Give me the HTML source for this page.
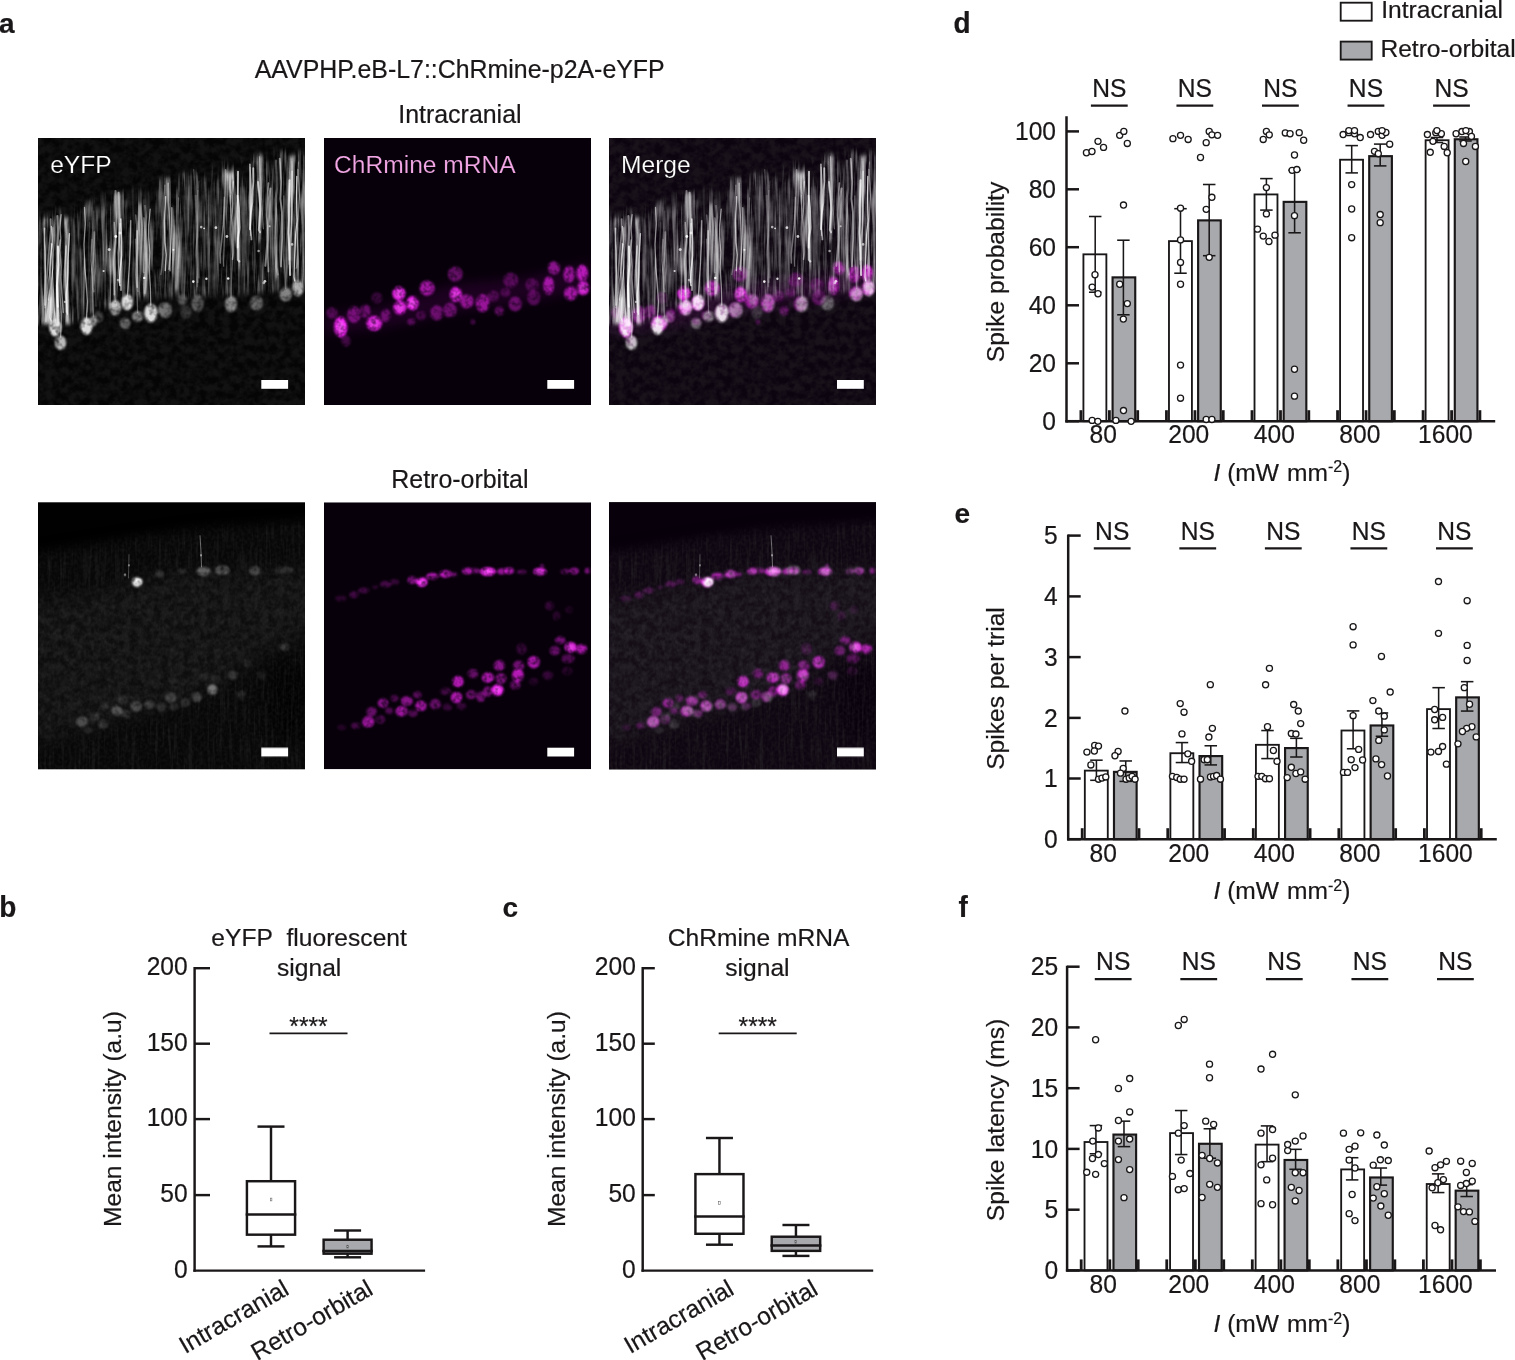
<!DOCTYPE html>
<html lang="en"><head><meta charset="utf-8"><title>Figure</title>
<style>html,body{margin:0;padding:0;background:#fff;overflow:hidden}svg{display:block}svg text{font-family:"Liberation Sans",Arial,Helvetica,sans-serif;font-kerning:none;stroke:#1a1718;stroke-width:0.2px}</style></head><body>
<svg width="1515" height="1360" viewBox="0 0 1515 1360">
<rect width="1515" height="1360" fill="#fff"/>
<defs>
<filter id="b05" x="-5%" y="-5%" width="110%" height="110%" color-interpolation-filters="sRGB"><feGaussianBlur stdDeviation="0.45"/></filter>
<filter id="b07" x="-5%" y="-5%" width="110%" height="110%" color-interpolation-filters="sRGB"><feGaussianBlur stdDeviation="0.75"/></filter>
<filter id="b1" x="-5%" y="-5%" width="110%" height="110%" color-interpolation-filters="sRGB"><feGaussianBlur stdDeviation="0.9"/></filter>
<filter id="b12" x="-5%" y="-5%" width="110%" height="110%" color-interpolation-filters="sRGB"><feGaussianBlur stdDeviation="1.1"/></filter>
<filter id="cellg" x="-5%" y="-5%" width="110%" height="110%" color-interpolation-filters="sRGB"><feGaussianBlur in="SourceGraphic" stdDeviation="0.9" result="b"/><feTurbulence type="fractalNoise" baseFrequency="0.17" numOctaves="2" seed="8" result="n"/><feColorMatrix in="n" type="matrix" values="0 0 0 0 1  0 0 0 0 1  0 0 0 0 1  1.3 0 0 0 0.22" result="na"/><feComposite in="b" in2="na" operator="in"/></filter>
<filter id="cellm" x="-5%" y="-5%" width="110%" height="110%" color-interpolation-filters="sRGB"><feGaussianBlur in="SourceGraphic" stdDeviation="1.0" result="b"/><feTurbulence type="fractalNoise" baseFrequency="0.19" numOctaves="2" seed="17" result="n"/><feColorMatrix in="n" type="matrix" values="0 0 0 0 1  0 0 0 0 1  0 0 0 0 1  1.5 0 0 0 0.12" result="na"/><feComposite in="b" in2="na" operator="in"/></filter>
<filter id="b2" x="-10%" y="-10%" width="120%" height="120%" color-interpolation-filters="sRGB"><feGaussianBlur stdDeviation="2.2"/></filter>
<filter id="b3" x="-10%" y="-10%" width="120%" height="120%" color-interpolation-filters="sRGB"><feGaussianBlur stdDeviation="3"/></filter>
<filter id="b4" x="-10%" y="-10%" width="120%" height="120%" color-interpolation-filters="sRGB"><feGaussianBlur stdDeviation="4"/></filter>
<filter id="b6" x="-20%" y="-20%" width="140%" height="140%" color-interpolation-filters="sRGB"><feGaussianBlur stdDeviation="6"/></filter>
<filter id="b9" x="-25%" y="-25%" width="150%" height="150%" color-interpolation-filters="sRGB"><feGaussianBlur stdDeviation="9"/></filter>
<filter id="nzfine" x="0" y="0" width="100%" height="100%" color-interpolation-filters="sRGB"><feTurbulence type="fractalNoise" baseFrequency="0.3" numOctaves="2" seed="4"/><feColorMatrix type="matrix" values="0 0 0 0 1  0 0 0 0 1  0 0 0 0 1  3 0 0 0 -1.1"/></filter>
<filter id="nzblob" x="0" y="0" width="100%" height="100%" color-interpolation-filters="sRGB"><feTurbulence type="fractalNoise" baseFrequency="0.13" numOctaves="3" seed="11"/><feColorMatrix type="matrix" values="0 0 0 0 1  0 0 0 0 1  0 0 0 0 1  2.6 0 0 0 -0.8"/></filter>
<filter id="nzstreak" x="0" y="0" width="100%" height="100%" color-interpolation-filters="sRGB"><feTurbulence type="fractalNoise" baseFrequency="0.19 0.013" numOctaves="3" seed="5"/><feColorMatrix type="matrix" values="0 0 0 0 1  0 0 0 0 1  0 0 0 0 1  3.8 0 0 0 -1.7"/></filter>
<filter id="nzstreak2" x="0" y="0" width="100%" height="100%" color-interpolation-filters="sRGB"><feTurbulence type="fractalNoise" baseFrequency="0.33 0.022" numOctaves="2" seed="21"/><feColorMatrix type="matrix" values="0 0 0 0 1  0 0 0 0 1  0 0 0 0 1  4 0 0 0 -1.9"/></filter>
<mask id="mB1"><path d="M-30 54L0 49L88 35L158 25L267 18L297 16L297 297L-30 297Z" fill="#fff" filter="url(#b6)"/></mask>
<mask id="mB1g"><path d="M-30 104L0 98L50 90L90 82L110 74L160 70L267 68L297 68L297 118L267 135L230 150L200 170L175 188L140 200L100 212L60 225L30 232L0 240L-30 246Z" fill="#fff" filter="url(#b9)"/></mask>
<mask id="mB1s"><g filter="url(#b6)"><path d="M-30 57L0 52L88 38L158 28L267 21L297 19L297 68L160 66L90 78L0 95L-30 100Z" fill="#fff"/><path d="M-30 250L0 245L60 230L140 205L200 175L267 140L297 125L297 297L-30 297Z" fill="#fff"/></g></mask>
<mask id="mA1"><g filter="url(#b2)"><path d="M-30 85L0 77L5 73L10 79L15 72L20 69L25 75L30 84L35 80L40 78L45 64L50 69L55 62L60 58L65 54L70 55L75 68L80 65L85 64L90 62L95 48L100 49L105 54L110 54L115 55L120 54L125 36L130 46L135 46L140 41L145 33L150 38L155 28L160 45L165 43L170 34L175 27L180 39L185 30L190 36L195 34L200 25L205 22L210 25L215 20L220 13L225 16L230 27L235 10L240 10L245 23L250 15L255 21L260 19L265 16L297 18L297 144L267 147L247 153L194 157L123 160L88 163L53 175L35 185L0 187L-30 187Z" fill="#383838"/><rect x="3.0" y="80" width="30" height="106" fill="#bebebe"/><rect x="71.0" y="56" width="12" height="114" fill="#ababab"/><rect x="97.5" y="66" width="13" height="92" fill="#989898"/><rect x="126.5" y="40" width="15" height="112" fill="#8e8e8e"/><rect x="185.0" y="34" width="16" height="96" fill="#b4b4b4"/><rect x="210.0" y="18" width="14" height="86" fill="#ababab"/><rect x="229.5" y="24" width="13" height="116" fill="#727272"/><rect x="250.0" y="18" width="16" height="126" fill="#a1a1a1"/><rect x="47.0" y="70" width="10" height="105" fill="#555555"/><rect x="154.0" y="34" width="12" height="116" fill="#4c4c4c"/></g></mask>
<mask id="mA1b"><g filter="url(#b2)"><path d="M-30 88L0 85L5 82L10 75L15 92L20 70L25 80L30 88L35 67L40 76L45 76L50 60L55 67L60 73L65 65L70 70L75 54L80 55L85 51L90 59L95 68L100 58L105 61L110 49L115 57L120 40L125 43L130 51L135 51L140 42L145 33L150 36L155 33L160 34L165 45L170 29L175 44L180 42L185 21L190 28L195 29L200 17L205 25L210 36L215 16L220 26L225 15L230 25L235 33L240 16L245 11L250 13L255 24L260 11L265 13L297 21L297 144L267 147L247 153L194 157L123 160L88 163L53 175L35 185L0 187L-30 187Z" fill="#8a8a8a"/></g></mask>

<g id="eyfpT"><rect width="267" height="267" fill="#050505"/><rect width="267" height="267" fill="#fff" filter="url(#nzblob)" opacity="0.05"/><rect width="267" height="267" fill="#fff" filter="url(#nzstreak)" mask="url(#mA1)"/><rect width="267" height="267" fill="#fff" filter="url(#nzstreak2)" mask="url(#mA1b)" opacity="0.5"/><g filter="url(#b07)"><g stroke="#fff" fill="none" stroke-linecap="round" stroke-linejoin="round"><path d="M12.7 81.1L12.8 92.3L11.4 108.1L9.9 126.3L8.6 143.2L8.3 154.6L7.1 169.7" stroke-width="1.8" opacity="0.43"/><path d="M31.4 95.6L30.0 121.2L29.3 145.0L28.1 157.3L29.1 172.2L29.4 176.1" stroke-width="1.4" opacity="0.68"/><path d="M19.4 78.1L20.0 91.4L19.4 108.3L19.3 127.6L20.2 142.4L19.4 163.6L19.5 182.8L20.2 184.5" stroke-width="2.2" opacity="0.47"/><path d="M6.5 90.2L6.5 102.6L7.0 113.3L7.3 135.5L6.7 159.5L7.0 167.1" stroke-width="1.5" opacity="0.65"/><path d="M28.2 108.1L26.8 128.7L27.3 150.0L28.3 174.1" stroke-width="1.5" opacity="0.47"/><path d="M23.1 76.8L21.8 89.5L22.7 100.4L21.9 112.5L23.1 128.7L22.9 140.0L24.1 158.8L25.3 174.5" stroke-width="1.5" opacity="0.47"/><path d="M13.8 106.1L12.7 118.5L11.9 132.2L12.2 149.9L10.6 162.1" stroke-width="1.4" opacity="0.55"/><path d="M20.0 108.4L20.4 126.7L18.9 147.5L19.8 168.7" stroke-width="2.0" opacity="0.82"/><path d="M14.8 89.6L13.4 109.7L12.4 120.8L11.9 133.4L10.3 144.2L9.1 156.6L7.5 172.5L7.9 183.4" stroke-width="1.3" opacity="0.39"/><path d="M13.4 88.4L15.0 112.0L14.9 129.4L13.7 140.8L12.9 156.3L11.8 179.5L13.3 182.9" stroke-width="1.2" opacity="0.62"/><path d="M77.5 52.9L78.7 78.6L77.9 99.7L76.9 115.6L77.0 137.9L76.4 156.4" stroke-width="2.0" opacity="0.39"/><path d="M82.8 81.0L83.6 104.1L83.6 117.7L82.1 133.4L81.4 143.8L82.0 147.6" stroke-width="1.5" opacity="0.79"/><path d="M82.2 85.6L81.3 101.4L80.4 115.1L80.8 128.3L81.9 144.1" stroke-width="1.8" opacity="0.53"/><path d="M80.6 54.9L81.5 79.4L81.4 101.4L82.4 114.3L83.3 129.6L83.0 152.0" stroke-width="2.1" opacity="0.49"/><path d="M106.9 67.8L108.2 80.2L107.1 103.1L108.6 126.3L108.1 146.8L107.0 154.8" stroke-width="2.2" opacity="0.25"/><path d="M105.9 79.9L107.1 96.8L106.2 120.1L105.5 134.1L105.8 134.7" stroke-width="1.5" opacity="0.36"/><path d="M99.2 92.9L99.5 110.3L99.2 134.7L99.2 149.2" stroke-width="1.6" opacity="0.50"/><path d="M97.7 77.0L98.7 87.0L98.6 99.8L98.8 121.4L98.9 136.6L99.8 153.4" stroke-width="1.7" opacity="0.29"/><path d="M130.2 45.4L130.4 63.5L131.7 85.7L132.1 102.8L132.1 120.9L132.0 132.7" stroke-width="1.6" opacity="0.46"/><path d="M140.6 59.8L139.9 84.8L141.3 103.8L140.1 127.2L139.9 130.1" stroke-width="1.3" opacity="0.26"/><path d="M127.6 58.8L126.5 83.1L127.0 104.6L128.2 116.9L127.3 132.4" stroke-width="1.5" opacity="0.65"/><path d="M133.8 69.7L133.6 82.2L133.1 100.5L132.5 113.6L131.0 131.2" stroke-width="1.5" opacity="0.47"/><path d="M126.8 47.3L125.4 65.5L126.3 91.2L125.0 116.8L123.6 131.0L122.8 136.4" stroke-width="1.5" opacity="0.28"/><path d="M199.6 57.8L200.9 70.2L201.6 89.4L200.1 100.8L199.9 121.8L201.3 123.5" stroke-width="2.0" opacity="0.65"/><path d="M186.3 59.1L186.2 82.9L186.4 98.3L185.6 123.2L185.7 128.3" stroke-width="1.1" opacity="0.42"/><path d="M187.6 31.7L187.0 46.7L186.3 68.9L185.3 86.9L183.7 102.4L182.2 116.4L182.3 125.0" stroke-width="1.6" opacity="0.39"/><path d="M200.0 33.6L199.9 50.5L199.6 73.9L200.2 92.0L199.7 109.5" stroke-width="1.8" opacity="0.76"/><path d="M195.2 43.8L194.0 54.6L194.8 65.8L193.7 79.9L194.8 91.2L195.3 115.1L194.5 121.3" stroke-width="1.6" opacity="0.45"/><path d="M212.2 29.2L213.7 54.5L212.9 73.3L212.3 97.4" stroke-width="1.0" opacity="0.46"/><path d="M215.3 30.1L215.4 43.4L214.6 53.4L214.3 64.9L212.8 75.5L211.9 90.4L212.0 91.4" stroke-width="1.8" opacity="0.68"/><path d="M220.0 43.9L221.6 59.1L222.3 71.5L220.8 91.8L222.1 94.3" stroke-width="1.9" opacity="0.61"/><path d="M221.4 18.7L222.4 36.8L223.5 59.7L224.7 79.0L225.4 90.9" stroke-width="1.0" opacity="0.39"/><path d="M211.9 26.3L212.1 49.6L212.5 69.7L212.4 90.6L213.4 100.6L213.4 101.4" stroke-width="1.8" opacity="0.56"/><path d="M230.4 45.1L229.6 56.2L228.7 77.9L230.2 99.7L229.8 117.7L230.4 133.7" stroke-width="1.7" opacity="0.46"/><path d="M237.9 22.6L238.6 36.7L238.9 51.6L237.4 61.8L238.0 76.1L238.6 97.1L238.6 111.8L238.5 129.2L239.8 136.3" stroke-width="2.2" opacity="0.25"/><path d="M241.7 20.6L243.2 43.7L242.4 60.9L243.9 74.3L244.1 87.6L244.2 99.9L243.0 125.1L243.0 128.5" stroke-width="1.8" opacity="0.50"/><path d="M232.5 50.5L230.9 60.9L230.8 78.8L229.6 93.6L229.0 109.1L227.4 127.8" stroke-width="2.0" opacity="0.45"/><path d="M251.9 45.5L251.2 69.9L250.9 85.9L251.2 111.9L251.0 126.2" stroke-width="1.1" opacity="0.40"/><path d="M251.6 42.4L250.8 67.3L250.9 81.6L250.5 94.6L251.7 119.9L252.1 136.9" stroke-width="2.1" opacity="0.72"/><path d="M258.8 38.5L258.6 60.2L259.1 82.2L257.6 96.8L256.5 121.6L256.0 139.2L256.7 142.8" stroke-width="1.3" opacity="0.75"/><path d="M260.5 24.2L259.4 40.5L258.5 53.1L258.5 77.6L259.8 91.1L259.6 117.1L258.6 129.3L258.1 130.1" stroke-width="1.3" opacity="0.30"/><path d="M254.1 33.4L253.9 55.4L253.9 72.0L253.4 88.0L252.7 99.0L251.5 121.8" stroke-width="1.8" opacity="0.51"/><path d="M55.6 73.3L55.3 87.3L56.8 104.5L58.0 128.0L56.5 138.4L57.7 159.7L58.0 168.2" stroke-width="1.5" opacity="0.14"/><path d="M56.3 94.1L55.5 119.6L54.4 131.4L54.9 149.7L55.6 153.6" stroke-width="1.9" opacity="0.31"/><path d="M51.6 84.8L50.7 107.3L51.2 132.0L50.0 146.8L50.4 160.9L49.2 174.0" stroke-width="1.6" opacity="0.15"/><path d="M161.0 43.2L159.4 62.8L159.3 77.6L159.8 103.0L159.7 127.1L158.9 140.9L159.5 144.4" stroke-width="1.0" opacity="0.19"/><path d="M160.0 52.9L160.5 67.0L159.6 91.9L159.1 102.4L159.7 119.1L160.7 132.3L160.7 139.5" stroke-width="2.2" opacity="0.17"/><path d="M157.7 57.9L158.6 71.4L160.0 86.1L159.0 104.1L158.8 117.6L160.2 138.3L159.8 144.2" stroke-width="2.2" opacity="0.17"/><path d="M155.7 31.8L157.0 48.1L157.7 72.2L159.1 98.2L158.1 113.4L158.9 138.4L159.4 148.5" stroke-width="1.4" opacity="0.21"/><path d="M17.3 182.9L15.8 167.9L15.3 152.5L14.2 129.0L13.3 105.5" stroke-width="1.3" opacity="0.54"/><path d="M22.6 199.1L23.5 176.3L22.2 159.1L21.8 141.4L20.9 118.4L22.1 102.0" stroke-width="1.3" opacity="0.45"/><path d="M48.5 181.1L49.4 163.2L48.0 142.0L46.7 129.6L46.0 106.5L47.2 85.6L46.5 69.5" stroke-width="1.3" opacity="0.54"/><path d="M55.5 178.8L54.8 158.4L54.3 137.8L52.8 122.5L54.0 101.5" stroke-width="1.3" opacity="0.30"/><path d="M77.2 163.5L75.8 139.2L75.7 124.4L77.1 100.9L76.3 84.3" stroke-width="1.3" opacity="0.48"/><path d="M89.4 157.9L90.6 139.0L91.5 124.8L92.5 103.9L92.8 82.6" stroke-width="1.3" opacity="0.54"/><path d="M112.8 167.0L112.4 150.2L111.1 128.8L111.9 114.5L110.6 99.5L110.7 87.1L112.2 71.2" stroke-width="1.3" opacity="0.54"/><path d="M99.6 174.4L98.9 149.6L97.7 136.6L98.3 118.6L97.5 101.2" stroke-width="1.3" opacity="0.30"/><path d="M193.0 159.6L193.5 139.2L194.5 118.2L193.4 98.2L192.8 76.2L192.4 57.4" stroke-width="1.3" opacity="0.33"/><path d="M247.6 150.6L246.9 135.3L245.8 120.3L246.1 97.7L245.7 81.8L245.8 57.9" stroke-width="1.3" opacity="0.30"/><path d="M260.0 143.8L260.4 121.1L259.2 97.2L260.2 79.5L261.4 57.4L260.8 44.9L259.9 31.5" stroke-width="1.3" opacity="0.42"/></g></g><g filter="url(#b05)"><g fill="#fff"><circle cx="65.6" cy="133.0" r="1.1" opacity="0.77"/><circle cx="166.1" cy="90.3" r="0.9" opacity="0.88"/><circle cx="71.2" cy="111.5" r="1.5" opacity="0.71"/><circle cx="220.6" cy="113.0" r="1.3" opacity="0.57"/><circle cx="168.4" cy="140.8" r="1.2" opacity="0.83"/><circle cx="177.9" cy="89.7" r="1.4" opacity="0.77"/><circle cx="82.0" cy="95.0" r="1.4" opacity="0.71"/><circle cx="190.2" cy="140.5" r="1.3" opacity="0.91"/><circle cx="106.3" cy="139.9" r="1.2" opacity="0.92"/><circle cx="231.6" cy="88.3" r="1.0" opacity="0.60"/><circle cx="254.1" cy="106.4" r="1.3" opacity="0.64"/><circle cx="135.4" cy="111.8" r="1.1" opacity="0.76"/><circle cx="155.3" cy="143.6" r="1.3" opacity="0.92"/><circle cx="225.8" cy="145.0" r="1.3" opacity="0.57"/><circle cx="226.9" cy="143.3" r="1.4" opacity="0.76"/><circle cx="188.9" cy="98.5" r="1.4" opacity="0.76"/><circle cx="77.8" cy="98.5" r="1.4" opacity="0.95"/><circle cx="26.9" cy="163.9" r="1.1" opacity="0.57"/><circle cx="80.1" cy="142.1" r="1.4" opacity="0.52"/><circle cx="163.2" cy="89.1" r="1.3" opacity="0.65"/></g></g><g filter="url(#cellg)"><ellipse cx="17.3" cy="189.8" rx="6.1" ry="8.6" fill="#f4f4f4" opacity="0.90"/><ellipse cx="22.6" cy="204.8" rx="5.7" ry="7.2" fill="#f4f4f4" opacity="0.75"/><ellipse cx="48.5" cy="188.1" rx="6.1" ry="8.6" fill="#f4f4f4" opacity="0.90"/><ellipse cx="55.5" cy="182.8" rx="4.2" ry="5.3" fill="#f4f4f4" opacity="0.50"/><ellipse cx="77.2" cy="169.6" rx="5.7" ry="7.6" fill="#f4f4f4" opacity="0.80"/><ellipse cx="89.4" cy="164.3" rx="5.7" ry="8.0" fill="#f4f4f4" opacity="0.90"/><ellipse cx="112.8" cy="174.9" rx="6.5" ry="9.5" fill="#f4f4f4" opacity="0.90"/><ellipse cx="126.9" cy="172.2" rx="6.9" ry="8.0" fill="#f4f4f4" opacity="0.45"/><ellipse cx="99.6" cy="178.4" rx="5.7" ry="5.3" fill="#f4f4f4" opacity="0.50"/><ellipse cx="87.2" cy="185.4" rx="5.3" ry="5.7" fill="#f4f4f4" opacity="0.40"/><ellipse cx="144.5" cy="161.6" rx="4.8" ry="5.3" fill="#f4f4f4" opacity="0.30"/><ellipse cx="159.5" cy="165.2" rx="6.1" ry="8.6" fill="#f4f4f4" opacity="0.35"/><ellipse cx="193.0" cy="166.0" rx="6.1" ry="8.0" fill="#f4f4f4" opacity="0.55"/><ellipse cx="218.5" cy="165.2" rx="6.7" ry="7.2" fill="#f4f4f4" opacity="0.40"/><ellipse cx="247.6" cy="156.3" rx="6.1" ry="7.2" fill="#f4f4f4" opacity="0.50"/><ellipse cx="260.0" cy="150.2" rx="5.7" ry="8.0" fill="#f4f4f4" opacity="0.70"/><ellipse cx="148.0" cy="174.0" rx="5.7" ry="6.7" fill="#f4f4f4" opacity="0.20"/><ellipse cx="60.8" cy="179.3" rx="4.8" ry="5.7" fill="#f4f4f4" opacity="0.25"/></g></g>
<g id="mrnaT"><rect width="267" height="267" fill="#07000a"/><path d="M0 178L60 168L130 146L200 140L267 124L267 152L200 164L130 174L60 190L0 196Z" fill="#b010b8" opacity="0.13" filter="url(#b6)"/><g filter="url(#cellm)"><ellipse cx="16.7" cy="189.0" rx="6.7" ry="10.5" fill="#ee22ee" opacity="1.00"/><ellipse cx="16.7" cy="189.0" rx="4.0" ry="6.3" fill="#ff66ff" opacity="0.64"/><ellipse cx="50.2" cy="185.4" rx="8.0" ry="7.6" fill="#ee22ee" opacity="0.85"/><ellipse cx="50.2" cy="185.4" rx="4.8" ry="4.6" fill="#ff66ff" opacity="0.40"/><ellipse cx="74.9" cy="155.5" rx="6.7" ry="7.2" fill="#ee22ee" opacity="0.90"/><ellipse cx="74.9" cy="155.5" rx="4.0" ry="4.3" fill="#ff66ff" opacity="0.48"/><ellipse cx="75.8" cy="169.6" rx="6.7" ry="7.2" fill="#ee22ee" opacity="0.85"/><ellipse cx="75.8" cy="169.6" rx="4.0" ry="4.3" fill="#ff66ff" opacity="0.40"/><ellipse cx="88.5" cy="165.2" rx="6.1" ry="7.2" fill="#ee22ee" opacity="0.95"/><ellipse cx="88.5" cy="165.2" rx="3.7" ry="4.3" fill="#ff66ff" opacity="0.56"/><ellipse cx="103.1" cy="150.2" rx="7.6" ry="7.6" fill="#ee22ee" opacity="0.65"/><ellipse cx="131.8" cy="156.3" rx="6.1" ry="7.6" fill="#ee22ee" opacity="0.85"/><ellipse cx="131.8" cy="156.3" rx="3.7" ry="4.6" fill="#ff66ff" opacity="0.40"/><ellipse cx="131.3" cy="136.1" rx="7.6" ry="7.6" fill="#ee22ee" opacity="0.40"/><ellipse cx="142.8" cy="163.4" rx="6.7" ry="7.2" fill="#ee22ee" opacity="0.55"/><ellipse cx="158.6" cy="165.2" rx="6.7" ry="9.1" fill="#ee22ee" opacity="0.60"/><ellipse cx="112.8" cy="174.9" rx="6.7" ry="7.6" fill="#ee22ee" opacity="0.40"/><ellipse cx="126.0" cy="172.2" rx="6.7" ry="7.6" fill="#ee22ee" opacity="0.40"/><ellipse cx="191.2" cy="166.0" rx="6.7" ry="7.6" fill="#ee22ee" opacity="0.40"/><ellipse cx="224.7" cy="147.5" rx="5.3" ry="9.5" fill="#ee22ee" opacity="0.65"/><ellipse cx="230.0" cy="129.9" rx="6.1" ry="6.7" fill="#ee22ee" opacity="0.55"/><ellipse cx="245.0" cy="136.1" rx="5.7" ry="8.6" fill="#ee22ee" opacity="0.60"/><ellipse cx="258.2" cy="135.2" rx="5.7" ry="8.6" fill="#ee22ee" opacity="0.75"/><ellipse cx="259.1" cy="150.2" rx="6.1" ry="7.2" fill="#ee22ee" opacity="0.80"/><ellipse cx="259.1" cy="150.2" rx="3.7" ry="4.3" fill="#ff66ff" opacity="0.32"/><ellipse cx="246.7" cy="155.5" rx="6.7" ry="7.2" fill="#ee22ee" opacity="0.65"/><ellipse cx="30.0" cy="176.6" rx="6.7" ry="8.6" fill="#ee22ee" opacity="0.45"/><ellipse cx="41.4" cy="173.1" rx="5.3" ry="6.7" fill="#ee22ee" opacity="0.40"/><ellipse cx="61.7" cy="177.5" rx="4.8" ry="6.7" fill="#ee22ee" opacity="0.40"/><ellipse cx="7.9" cy="174.9" rx="5.7" ry="5.7" fill="#ee22ee" opacity="0.30"/><ellipse cx="186.8" cy="142.2" rx="7.6" ry="7.6" fill="#ee22ee" opacity="0.30"/><ellipse cx="209.7" cy="159.9" rx="6.7" ry="7.6" fill="#ee22ee" opacity="0.30"/><ellipse cx="208.0" cy="146.7" rx="6.7" ry="6.7" fill="#ee22ee" opacity="0.25"/><ellipse cx="175.4" cy="173.1" rx="4.8" ry="4.8" fill="#ee22ee" opacity="0.35"/><ellipse cx="87.2" cy="183.7" rx="4.2" ry="3.4" fill="#ee22ee" opacity="0.30"/><ellipse cx="148.9" cy="183.7" rx="2.3" ry="2.7" fill="#ee22ee" opacity="0.30"/><ellipse cx="22.0" cy="203.0" rx="4.8" ry="5.7" fill="#ee22ee" opacity="0.25"/><ellipse cx="52.9" cy="159.9" rx="5.7" ry="5.7" fill="#ee22ee" opacity="0.20"/><ellipse cx="169.2" cy="158.1" rx="5.7" ry="5.7" fill="#ee22ee" opacity="0.25"/><ellipse cx="96.9" cy="177.5" rx="4.8" ry="4.8" fill="#ee22ee" opacity="0.25"/><ellipse cx="181.5" cy="154.6" rx="4.8" ry="4.8" fill="#ee22ee" opacity="0.25"/></g></g>
<g id="eyfpB"><rect width="267" height="267" fill="#010101"/><path d="M-30 54L0 49L88 35L158 25L267 18L297 16L297 297L-30 297Z" fill="#070707" filter="url(#b6)"/><path d="M-30 104L0 98L50 90L90 82L110 74L160 70L267 68L297 68L297 118L267 135L230 150L200 170L175 188L140 200L100 212L60 225L30 232L0 240L-30 246Z" fill="#060606" filter="url(#b9)" style="mix-blend-mode:screen"/><ellipse cx="250" cy="200" rx="22" ry="40" fill="#000" opacity="0.6" filter="url(#b6)"/><rect width="267" height="267" fill="#fff" filter="url(#nzblob)" opacity="0.05" mask="url(#mB1g)"/><rect width="267" height="267" fill="#fff" filter="url(#nzfine)" opacity="0.03" mask="url(#mB1)"/><rect width="267" height="267" fill="#fff" filter="url(#nzstreak2)" opacity="0.04" mask="url(#mB1s)"/><g stroke="#fff" fill="none" filter="url(#b05)"><path d="M162 33L163 50L163.5 65" stroke-width="1" opacity="0.4"/><path d="M91 52L90.5 76" stroke-width="1" opacity="0.25"/><circle cx="163" cy="53" r="1" fill="#fff" opacity="0.6" stroke="none"/><circle cx="91" cy="63" r="1" fill="#fff" opacity="0.5" stroke="none"/><circle cx="87" cy="72.5" r="1.2" fill="#fff" opacity="0.5" stroke="none"/></g><g filter="url(#cellg)"><ellipse cx="99.2" cy="79.7" rx="5.2" ry="4.8" fill="#f4f4f4" opacity="1.00"/><ellipse cx="165.7" cy="69.1" rx="7.0" ry="4.6" fill="#f4f4f4" opacity="0.36"/><ellipse cx="184.2" cy="67.9" rx="7.4" ry="4.6" fill="#f4f4f4" opacity="0.32"/><ellipse cx="216.8" cy="68.4" rx="5.6" ry="4.6" fill="#f4f4f4" opacity="0.25"/><ellipse cx="246.7" cy="67.9" rx="9.3" ry="3.7" fill="#f4f4f4" opacity="0.14"/><ellipse cx="121.6" cy="71.4" rx="4.6" ry="3.7" fill="#f4f4f4" opacity="0.14"/><ellipse cx="144.5" cy="68.7" rx="4.6" ry="2.8" fill="#f4f4f4" opacity="0.11"/><ellipse cx="174.5" cy="187.2" rx="5.2" ry="5.2" fill="#f4f4f4" opacity="0.43"/><ellipse cx="158.6" cy="194.8" rx="5.2" ry="5.2" fill="#f4f4f4" opacity="0.22"/><ellipse cx="133.1" cy="195.2" rx="5.6" ry="5.2" fill="#f4f4f4" opacity="0.22"/><ellipse cx="147.2" cy="200.4" rx="5.2" ry="4.6" fill="#f4f4f4" opacity="0.14"/><ellipse cx="135.7" cy="204.0" rx="4.6" ry="4.1" fill="#f4f4f4" opacity="0.14"/><ellipse cx="123.4" cy="204.9" rx="5.2" ry="4.6" fill="#f4f4f4" opacity="0.14"/><ellipse cx="111.4" cy="202.6" rx="5.2" ry="4.6" fill="#f4f4f4" opacity="0.18"/><ellipse cx="98.3" cy="204.0" rx="5.9" ry="5.2" fill="#f4f4f4" opacity="0.25"/><ellipse cx="78.8" cy="208.4" rx="5.6" ry="5.2" fill="#f4f4f4" opacity="0.29"/><ellipse cx="88.1" cy="211.9" rx="5.2" ry="4.1" fill="#f4f4f4" opacity="0.14"/><ellipse cx="84.6" cy="197.8" rx="5.2" ry="4.1" fill="#f4f4f4" opacity="0.13"/><ellipse cx="65.2" cy="221.6" rx="5.2" ry="4.6" fill="#f4f4f4" opacity="0.18"/><ellipse cx="56.7" cy="214.5" rx="5.2" ry="4.6" fill="#f4f4f4" opacity="0.14"/><ellipse cx="44.1" cy="219.5" rx="5.9" ry="5.6" fill="#f4f4f4" opacity="0.25"/><ellipse cx="66.1" cy="203.1" rx="4.6" ry="4.1" fill="#f4f4f4" opacity="0.11"/><ellipse cx="194.7" cy="173.1" rx="4.6" ry="4.6" fill="#f4f4f4" opacity="0.18"/><ellipse cx="203.6" cy="192.5" rx="4.6" ry="4.6" fill="#f4f4f4" opacity="0.11"/><ellipse cx="223.8" cy="173.1" rx="4.6" ry="4.1" fill="#f4f4f4" opacity="0.09"/><ellipse cx="246.7" cy="144.9" rx="4.6" ry="4.1" fill="#f4f4f4" opacity="0.18"/><ellipse cx="209.7" cy="161.7" rx="4.1" ry="4.1" fill="#f4f4f4" opacity="0.09"/><ellipse cx="50.2" cy="227.8" rx="4.1" ry="3.3" fill="#f4f4f4" opacity="0.11"/><ellipse cx="165.7" cy="174.9" rx="4.6" ry="3.7" fill="#f4f4f4" opacity="0.09"/><ellipse cx="136.6" cy="179.3" rx="5.2" ry="2.8" fill="#f4f4f4" opacity="0.09"/><ellipse cx="178.0" cy="176.7" rx="4.6" ry="3.7" fill="#f4f4f4" opacity="0.09"/></g></g>
<g id="mrnaB"><rect width="267" height="267" fill="#07000a"/><g filter="url(#cellm)"><ellipse cx="97.8" cy="79.8" rx="5.8" ry="4.8" fill="#ee22ee" opacity="0.95"/><ellipse cx="97.8" cy="79.8" rx="3.5" ry="2.9" fill="#ff66ff" opacity="0.56"/><ellipse cx="88.1" cy="77.9" rx="4.8" ry="3.9" fill="#ee22ee" opacity="0.55"/><ellipse cx="108.4" cy="74.0" rx="6.2" ry="3.5" fill="#ee22ee" opacity="0.70"/><ellipse cx="121.6" cy="71.7" rx="6.2" ry="3.9" fill="#ee22ee" opacity="0.75"/><ellipse cx="130.4" cy="72.2" rx="2.9" ry="2.3" fill="#ee22ee" opacity="0.40"/><ellipse cx="143.6" cy="68.7" rx="5.8" ry="3.5" fill="#ee22ee" opacity="0.65"/><ellipse cx="151.6" cy="68.4" rx="3.9" ry="2.9" fill="#ee22ee" opacity="0.45"/><ellipse cx="163.9" cy="69.3" rx="8.1" ry="4.3" fill="#ee22ee" opacity="1.00"/><ellipse cx="163.9" cy="69.3" rx="4.9" ry="2.6" fill="#ff66ff" opacity="0.64"/><ellipse cx="178.0" cy="69.1" rx="4.8" ry="3.1" fill="#ee22ee" opacity="0.60"/><ellipse cx="185.0" cy="68.4" rx="5.4" ry="3.5" fill="#ee22ee" opacity="0.65"/><ellipse cx="197.4" cy="69.6" rx="5.4" ry="2.3" fill="#ee22ee" opacity="0.30"/><ellipse cx="215.9" cy="69.3" rx="6.8" ry="3.9" fill="#ee22ee" opacity="0.85"/><ellipse cx="215.9" cy="69.3" rx="4.1" ry="2.3" fill="#ff66ff" opacity="0.40"/><ellipse cx="218.0" cy="63.4" rx="1.9" ry="1.6" fill="#ee22ee" opacity="0.50"/><ellipse cx="241.4" cy="69.1" rx="4.8" ry="2.7" fill="#ee22ee" opacity="0.35"/><ellipse cx="250.3" cy="68.7" rx="4.8" ry="3.5" fill="#ee22ee" opacity="0.55"/><ellipse cx="263.5" cy="68.4" rx="2.9" ry="2.9" fill="#ee22ee" opacity="0.50"/><ellipse cx="61.7" cy="81.9" rx="5.8" ry="3.5" fill="#ee22ee" opacity="0.25"/><ellipse cx="70.5" cy="79.6" rx="4.8" ry="2.9" fill="#ee22ee" opacity="0.20"/><ellipse cx="39.7" cy="88.1" rx="5.8" ry="2.9" fill="#ee22ee" opacity="0.25"/><ellipse cx="30.0" cy="92.5" rx="4.8" ry="3.5" fill="#ee22ee" opacity="0.25"/><ellipse cx="16.7" cy="96.0" rx="5.8" ry="3.5" fill="#ee22ee" opacity="0.15"/><ellipse cx="51.1" cy="84.6" rx="2.9" ry="2.3" fill="#ee22ee" opacity="0.15"/><ellipse cx="225.6" cy="103.6" rx="4.8" ry="4.3" fill="#ee22ee" opacity="0.20"/><ellipse cx="232.6" cy="113.7" rx="3.9" ry="4.8" fill="#ee22ee" opacity="0.15"/><ellipse cx="245.0" cy="107.5" rx="3.9" ry="3.5" fill="#ee22ee" opacity="0.12"/><ellipse cx="246.7" cy="144.9" rx="6.2" ry="5.4" fill="#ee22ee" opacity="0.85"/><ellipse cx="246.7" cy="144.9" rx="3.7" ry="3.3" fill="#ff66ff" opacity="0.40"/><ellipse cx="257.3" cy="146.7" rx="5.8" ry="4.8" fill="#ee22ee" opacity="0.75"/><ellipse cx="236.2" cy="137.9" rx="5.4" ry="3.9" fill="#ee22ee" opacity="0.45"/><ellipse cx="230.9" cy="148.5" rx="5.4" ry="4.8" fill="#ee22ee" opacity="0.40"/><ellipse cx="197.4" cy="146.7" rx="5.4" ry="5.8" fill="#ee22ee" opacity="0.20"/><ellipse cx="244.1" cy="156.4" rx="6.8" ry="4.8" fill="#ee22ee" opacity="0.30"/><ellipse cx="209.7" cy="159.9" rx="6.2" ry="6.2" fill="#ee22ee" opacity="0.70"/><ellipse cx="194.7" cy="163.4" rx="5.8" ry="5.4" fill="#ee22ee" opacity="0.45"/><ellipse cx="175.4" cy="163.1" rx="5.8" ry="5.4" fill="#ee22ee" opacity="0.55"/><ellipse cx="193.9" cy="173.1" rx="5.8" ry="6.8" fill="#ee22ee" opacity="0.75"/><ellipse cx="191.2" cy="182.8" rx="5.4" ry="4.3" fill="#ee22ee" opacity="0.40"/><ellipse cx="177.1" cy="176.1" rx="5.4" ry="5.4" fill="#ee22ee" opacity="0.50"/><ellipse cx="163.9" cy="175.4" rx="6.2" ry="5.4" fill="#ee22ee" opacity="0.70"/><ellipse cx="148.9" cy="171.4" rx="5.4" ry="4.8" fill="#ee22ee" opacity="0.40"/><ellipse cx="133.9" cy="179.3" rx="5.8" ry="5.8" fill="#ee22ee" opacity="0.75"/><ellipse cx="173.6" cy="187.8" rx="6.2" ry="5.8" fill="#ee22ee" opacity="0.95"/><ellipse cx="173.6" cy="187.8" rx="3.7" ry="3.5" fill="#ff66ff" opacity="0.56"/><ellipse cx="163.9" cy="189.0" rx="4.8" ry="5.4" fill="#ee22ee" opacity="0.45"/><ellipse cx="156.9" cy="194.3" rx="4.8" ry="5.4" fill="#ee22ee" opacity="0.45"/><ellipse cx="147.2" cy="192.5" rx="5.4" ry="4.8" fill="#ee22ee" opacity="0.40"/><ellipse cx="132.5" cy="195.2" rx="5.8" ry="5.8" fill="#ee22ee" opacity="0.70"/><ellipse cx="121.6" cy="189.0" rx="5.4" ry="3.9" fill="#ee22ee" opacity="0.25"/><ellipse cx="111.4" cy="201.9" rx="5.8" ry="5.4" fill="#ee22ee" opacity="0.40"/><ellipse cx="96.9" cy="203.6" rx="5.8" ry="5.4" fill="#ee22ee" opacity="0.65"/><ellipse cx="93.4" cy="192.5" rx="4.3" ry="3.5" fill="#ee22ee" opacity="0.35"/><ellipse cx="82.8" cy="198.7" rx="6.2" ry="4.8" fill="#ee22ee" opacity="0.55"/><ellipse cx="77.5" cy="208.9" rx="6.2" ry="5.4" fill="#ee22ee" opacity="0.65"/><ellipse cx="89.0" cy="211.0" rx="4.8" ry="3.9" fill="#ee22ee" opacity="0.30"/><ellipse cx="59.0" cy="200.8" rx="5.4" ry="4.8" fill="#ee22ee" opacity="0.55"/><ellipse cx="70.5" cy="196.0" rx="3.9" ry="3.5" fill="#ee22ee" opacity="0.30"/><ellipse cx="47.6" cy="209.3" rx="5.4" ry="4.8" fill="#ee22ee" opacity="0.40"/><ellipse cx="44.1" cy="219.5" rx="6.2" ry="5.8" fill="#ee22ee" opacity="0.65"/><ellipse cx="56.4" cy="217.2" rx="4.8" ry="4.3" fill="#ee22ee" opacity="0.30"/><ellipse cx="65.2" cy="208.4" rx="3.9" ry="3.5" fill="#ee22ee" opacity="0.30"/><ellipse cx="31.7" cy="223.4" rx="4.8" ry="3.5" fill="#ee22ee" opacity="0.25"/><ellipse cx="223.8" cy="173.1" rx="5.4" ry="4.3" fill="#ee22ee" opacity="0.20"/><ellipse cx="243.2" cy="168.7" rx="5.4" ry="4.3" fill="#ee22ee" opacity="0.15"/><ellipse cx="209.7" cy="179.3" rx="4.8" ry="3.9" fill="#ee22ee" opacity="0.15"/><ellipse cx="17.6" cy="225.1" rx="4.8" ry="2.9" fill="#ee22ee" opacity="0.12"/><ellipse cx="123.4" cy="204.9" rx="4.8" ry="3.9" fill="#ee22ee" opacity="0.20"/><ellipse cx="137.5" cy="204.0" rx="4.8" ry="3.9" fill="#ee22ee" opacity="0.20"/></g></g>
</defs>
<svg x="38" y="138" width="267" height="267" viewBox="0 0 267 267" overflow="hidden" style="isolation:isolate"><use href="#eyfpT"/><rect x="223.3" y="242" width="26.8" height="8.8" fill="#fff"/><text x="12.2" y="35.4" font-size="24.6" fill="#fff" stroke="#fff">eYFP</text></svg>
<svg x="324" y="138" width="267" height="267" viewBox="0 0 267 267" overflow="hidden" style="isolation:isolate"><use href="#mrnaT"/><rect x="223.3" y="242" width="26.8" height="8.8" fill="#fff"/><text x="10" y="35.4" font-size="24.6" fill="#f3a6e6" stroke="#f3a6e6">ChRmine mRNA</text></svg>
<svg x="609" y="138" width="267" height="267" viewBox="0 0 267 267" overflow="hidden" style="isolation:isolate"><use href="#eyfpT"/><use href="#mrnaT" style="mix-blend-mode:screen"/><rect x="228" y="242" width="26.8" height="8.8" fill="#fff"/><text x="12" y="35.4" font-size="24.6" fill="#fff" stroke="#fff">Merge</text></svg>
<svg x="38" y="502.3" width="267" height="267" viewBox="0 0 267 267" overflow="hidden" style="isolation:isolate"><use href="#eyfpB"/><rect x="223.3" y="245.4" width="26.8" height="8.8" fill="#fff"/></svg>
<svg x="324" y="502.3" width="267" height="267" viewBox="0 0 267 267" overflow="hidden" style="isolation:isolate"><use href="#mrnaB"/><rect x="223.3" y="245.4" width="26.8" height="8.8" fill="#fff"/></svg>
<svg x="609" y="502.3" width="267" height="267" viewBox="0 0 267 267" overflow="hidden" style="isolation:isolate"><use href="#eyfpB"/><use href="#mrnaB" style="mix-blend-mode:screen"/><rect x="228" y="245.4" width="26.8" height="8.8" fill="#fff"/></svg>
<text x="254.70" y="78.10" font-size="24.9" text-anchor="start" fill="#1a1718" style="font-kerning:normal">AAVPHP.eB-L7::ChRmine-p2A-eYFP</text>
<text x="459.90" y="123.00" font-size="24.95" text-anchor="middle" fill="#1a1718">Intracranial</text>
<text x="459.90" y="487.60" font-size="24.95" text-anchor="middle" fill="#1a1718">Retro-orbital</text>
<g id="panel-d"><rect x="1083.42" y="254.33" width="22.95" height="166.87" fill="#fff" stroke="#1a1718" stroke-width="1.85"/>
<rect x="1112.58" y="277.38" width="22.65" height="143.82" fill="#a7a9ac" stroke="#1a1718" stroke-width="2.15"/>
<rect x="1168.97" y="241.12" width="22.95" height="180.07" fill="#fff" stroke="#1a1718" stroke-width="1.85"/>
<rect x="1198.12" y="220.38" width="22.65" height="200.82" fill="#a7a9ac" stroke="#1a1718" stroke-width="2.15"/>
<rect x="1254.52" y="194.43" width="22.95" height="226.77" fill="#fff" stroke="#1a1718" stroke-width="1.85"/>
<rect x="1283.67" y="201.88" width="22.65" height="219.32" fill="#a7a9ac" stroke="#1a1718" stroke-width="2.15"/>
<rect x="1340.08" y="159.73" width="22.95" height="261.47" fill="#fff" stroke="#1a1718" stroke-width="1.85"/>
<rect x="1369.23" y="156.17" width="22.65" height="265.03" fill="#a7a9ac" stroke="#1a1718" stroke-width="2.15"/>
<rect x="1425.62" y="140.23" width="22.95" height="280.97" fill="#fff" stroke="#1a1718" stroke-width="1.85"/>
<rect x="1454.78" y="139.27" width="22.65" height="281.93" fill="#a7a9ac" stroke="#1a1718" stroke-width="2.15"/>
<line x1="1080.90" y1="410.20" x2="1080.90" y2="421.20" stroke="#1a1718" stroke-width="2.8" stroke-linecap="butt"/>
<line x1="1109.40" y1="410.20" x2="1109.40" y2="421.20" stroke="#1a1718" stroke-width="2.8" stroke-linecap="butt"/>
<line x1="1137.70" y1="410.20" x2="1137.70" y2="421.20" stroke="#1a1718" stroke-width="2.8" stroke-linecap="butt"/>
<line x1="1166.45" y1="410.20" x2="1166.45" y2="421.20" stroke="#1a1718" stroke-width="2.8" stroke-linecap="butt"/>
<line x1="1194.95" y1="410.20" x2="1194.95" y2="421.20" stroke="#1a1718" stroke-width="2.8" stroke-linecap="butt"/>
<line x1="1223.25" y1="410.20" x2="1223.25" y2="421.20" stroke="#1a1718" stroke-width="2.8" stroke-linecap="butt"/>
<line x1="1252.00" y1="410.20" x2="1252.00" y2="421.20" stroke="#1a1718" stroke-width="2.8" stroke-linecap="butt"/>
<line x1="1280.50" y1="410.20" x2="1280.50" y2="421.20" stroke="#1a1718" stroke-width="2.8" stroke-linecap="butt"/>
<line x1="1308.80" y1="410.20" x2="1308.80" y2="421.20" stroke="#1a1718" stroke-width="2.8" stroke-linecap="butt"/>
<line x1="1337.55" y1="410.20" x2="1337.55" y2="421.20" stroke="#1a1718" stroke-width="2.8" stroke-linecap="butt"/>
<line x1="1366.05" y1="410.20" x2="1366.05" y2="421.20" stroke="#1a1718" stroke-width="2.8" stroke-linecap="butt"/>
<line x1="1394.35" y1="410.20" x2="1394.35" y2="421.20" stroke="#1a1718" stroke-width="2.8" stroke-linecap="butt"/>
<line x1="1423.10" y1="410.20" x2="1423.10" y2="421.20" stroke="#1a1718" stroke-width="2.8" stroke-linecap="butt"/>
<line x1="1451.60" y1="410.20" x2="1451.60" y2="421.20" stroke="#1a1718" stroke-width="2.8" stroke-linecap="butt"/>
<line x1="1479.90" y1="410.20" x2="1479.90" y2="421.20" stroke="#1a1718" stroke-width="2.8" stroke-linecap="butt"/>
<line x1="1066.50" y1="116.30" x2="1066.50" y2="422.40" stroke="#1a1718" stroke-width="2.5" stroke-linecap="butt"/>
<line x1="1065.30" y1="421.20" x2="1495.20" y2="421.20" stroke="#1a1718" stroke-width="2.5" stroke-linecap="butt"/>
<line x1="1066.50" y1="131.40" x2="1079.00" y2="131.40" stroke="#1a1718" stroke-width="2.5" stroke-linecap="butt"/>
<text transform="translate(1056.00,140.10) scale(1,1.04)" font-size="24.6" text-anchor="end" fill="#1a1718">100</text>
<line x1="1066.50" y1="189.30" x2="1079.00" y2="189.30" stroke="#1a1718" stroke-width="2.5" stroke-linecap="butt"/>
<text transform="translate(1056.00,198.00) scale(1,1.04)" font-size="24.6" text-anchor="end" fill="#1a1718">80</text>
<line x1="1066.50" y1="247.20" x2="1079.00" y2="247.20" stroke="#1a1718" stroke-width="2.5" stroke-linecap="butt"/>
<text transform="translate(1056.00,255.90) scale(1,1.04)" font-size="24.6" text-anchor="end" fill="#1a1718">60</text>
<line x1="1066.50" y1="305.30" x2="1079.00" y2="305.30" stroke="#1a1718" stroke-width="2.5" stroke-linecap="butt"/>
<text transform="translate(1056.00,314.00) scale(1,1.04)" font-size="24.6" text-anchor="end" fill="#1a1718">40</text>
<line x1="1066.50" y1="363.30" x2="1079.00" y2="363.30" stroke="#1a1718" stroke-width="2.5" stroke-linecap="butt"/>
<text transform="translate(1056.00,372.00) scale(1,1.04)" font-size="24.6" text-anchor="end" fill="#1a1718">20</text>
<line x1="1066.50" y1="421.20" x2="1079.00" y2="421.20" stroke="#1a1718" stroke-width="2.5" stroke-linecap="butt"/>
<text transform="translate(1056.00,429.90) scale(1,1.04)" font-size="24.6" text-anchor="end" fill="#1a1718">0</text>
<line x1="1095.20" y1="216.50" x2="1095.20" y2="292.20" stroke="#1a1718" stroke-width="1.55" stroke-linecap="butt"/><line x1="1088.95" y1="216.50" x2="1101.45" y2="216.50" stroke="#1a1718" stroke-width="1.55" stroke-linecap="butt"/><line x1="1088.95" y1="292.20" x2="1101.45" y2="292.20" stroke="#1a1718" stroke-width="1.55" stroke-linecap="butt"/>
<line x1="1123.40" y1="240.20" x2="1123.40" y2="314.80" stroke="#1a1718" stroke-width="1.55" stroke-linecap="butt"/><line x1="1117.15" y1="240.20" x2="1129.65" y2="240.20" stroke="#1a1718" stroke-width="1.55" stroke-linecap="butt"/><line x1="1117.15" y1="314.80" x2="1129.65" y2="314.80" stroke="#1a1718" stroke-width="1.55" stroke-linecap="butt"/>
<line x1="1180.50" y1="208.70" x2="1180.50" y2="273.20" stroke="#1a1718" stroke-width="1.55" stroke-linecap="butt"/><line x1="1174.25" y1="208.70" x2="1186.75" y2="208.70" stroke="#1a1718" stroke-width="1.55" stroke-linecap="butt"/><line x1="1174.25" y1="273.20" x2="1186.75" y2="273.20" stroke="#1a1718" stroke-width="1.55" stroke-linecap="butt"/>
<line x1="1209.20" y1="184.50" x2="1209.20" y2="255.70" stroke="#1a1718" stroke-width="1.55" stroke-linecap="butt"/><line x1="1202.95" y1="184.50" x2="1215.45" y2="184.50" stroke="#1a1718" stroke-width="1.55" stroke-linecap="butt"/><line x1="1202.95" y1="255.70" x2="1215.45" y2="255.70" stroke="#1a1718" stroke-width="1.55" stroke-linecap="butt"/>
<line x1="1266.40" y1="178.60" x2="1266.40" y2="210.10" stroke="#1a1718" stroke-width="1.55" stroke-linecap="butt"/><line x1="1260.15" y1="178.60" x2="1272.65" y2="178.60" stroke="#1a1718" stroke-width="1.55" stroke-linecap="butt"/><line x1="1260.15" y1="210.10" x2="1272.65" y2="210.10" stroke="#1a1718" stroke-width="1.55" stroke-linecap="butt"/>
<line x1="1294.60" y1="170.20" x2="1294.60" y2="232.80" stroke="#1a1718" stroke-width="1.55" stroke-linecap="butt"/><line x1="1288.35" y1="170.20" x2="1300.85" y2="170.20" stroke="#1a1718" stroke-width="1.55" stroke-linecap="butt"/><line x1="1288.35" y1="232.80" x2="1300.85" y2="232.80" stroke="#1a1718" stroke-width="1.55" stroke-linecap="butt"/>
<line x1="1351.70" y1="145.60" x2="1351.70" y2="172.90" stroke="#1a1718" stroke-width="1.55" stroke-linecap="butt"/><line x1="1345.45" y1="145.60" x2="1357.95" y2="145.60" stroke="#1a1718" stroke-width="1.55" stroke-linecap="butt"/><line x1="1345.45" y1="172.90" x2="1357.95" y2="172.90" stroke="#1a1718" stroke-width="1.55" stroke-linecap="butt"/>
<line x1="1380.20" y1="144.10" x2="1380.20" y2="165.90" stroke="#1a1718" stroke-width="1.55" stroke-linecap="butt"/><line x1="1373.95" y1="144.10" x2="1386.45" y2="144.10" stroke="#1a1718" stroke-width="1.55" stroke-linecap="butt"/><line x1="1373.95" y1="165.90" x2="1386.45" y2="165.90" stroke="#1a1718" stroke-width="1.55" stroke-linecap="butt"/>
<line x1="1437.00" y1="137.50" x2="1437.00" y2="142.50" stroke="#1a1718" stroke-width="1.55" stroke-linecap="butt"/><line x1="1430.75" y1="137.50" x2="1443.25" y2="137.50" stroke="#1a1718" stroke-width="1.55" stroke-linecap="butt"/><line x1="1430.75" y1="142.50" x2="1443.25" y2="142.50" stroke="#1a1718" stroke-width="1.55" stroke-linecap="butt"/>
<line x1="1465.50" y1="137.00" x2="1465.50" y2="141.00" stroke="#1a1718" stroke-width="1.55" stroke-linecap="butt"/><line x1="1459.25" y1="137.00" x2="1471.75" y2="137.00" stroke="#1a1718" stroke-width="1.55" stroke-linecap="butt"/><line x1="1459.25" y1="141.00" x2="1471.75" y2="141.00" stroke="#1a1718" stroke-width="1.55" stroke-linecap="butt"/>
<circle cx="1086.44" cy="152.77" r="3.05" fill="#fff" stroke="#1a1718" stroke-width="1.3"/>
<circle cx="1091.98" cy="151.50" r="3.05" fill="#fff" stroke="#1a1718" stroke-width="1.3"/>
<circle cx="1098.00" cy="141.37" r="3.05" fill="#fff" stroke="#1a1718" stroke-width="1.3"/>
<circle cx="1103.54" cy="147.39" r="3.05" fill="#fff" stroke="#1a1718" stroke-width="1.3"/>
<circle cx="1094.99" cy="274.75" r="3.05" fill="#fff" stroke="#1a1718" stroke-width="1.3"/>
<circle cx="1092.14" cy="287.11" r="3.05" fill="#fff" stroke="#1a1718" stroke-width="1.3"/>
<circle cx="1098.00" cy="293.76" r="3.05" fill="#fff" stroke="#1a1718" stroke-width="1.3"/>
<circle cx="1119.70" cy="135.35" r="3.05" fill="#fff" stroke="#1a1718" stroke-width="1.3"/>
<circle cx="1123.82" cy="131.39" r="3.05" fill="#fff" stroke="#1a1718" stroke-width="1.3"/>
<circle cx="1127.31" cy="143.43" r="3.05" fill="#fff" stroke="#1a1718" stroke-width="1.3"/>
<circle cx="1123.50" cy="205.05" r="3.05" fill="#fff" stroke="#1a1718" stroke-width="1.3"/>
<circle cx="1119.70" cy="284.26" r="3.05" fill="#fff" stroke="#1a1718" stroke-width="1.3"/>
<circle cx="1127.31" cy="303.58" r="3.05" fill="#fff" stroke="#1a1718" stroke-width="1.3"/>
<circle cx="1123.35" cy="319.11" r="3.05" fill="#fff" stroke="#1a1718" stroke-width="1.3"/>
<circle cx="1172.93" cy="138.67" r="3.05" fill="#fff" stroke="#1a1718" stroke-width="1.3"/>
<circle cx="1180.53" cy="135.35" r="3.05" fill="#fff" stroke="#1a1718" stroke-width="1.3"/>
<circle cx="1188.14" cy="139.47" r="3.05" fill="#fff" stroke="#1a1718" stroke-width="1.3"/>
<circle cx="1180.53" cy="208.22" r="3.05" fill="#fff" stroke="#1a1718" stroke-width="1.3"/>
<circle cx="1180.53" cy="239.90" r="3.05" fill="#fff" stroke="#1a1718" stroke-width="1.3"/>
<circle cx="1180.53" cy="262.40" r="3.05" fill="#fff" stroke="#1a1718" stroke-width="1.3"/>
<circle cx="1180.53" cy="284.26" r="3.05" fill="#fff" stroke="#1a1718" stroke-width="1.3"/>
<circle cx="1209.21" cy="131.39" r="3.05" fill="#fff" stroke="#1a1718" stroke-width="1.3"/>
<circle cx="1211.90" cy="134.87" r="3.05" fill="#fff" stroke="#1a1718" stroke-width="1.3"/>
<circle cx="1217.60" cy="135.35" r="3.05" fill="#fff" stroke="#1a1718" stroke-width="1.3"/>
<circle cx="1206.20" cy="142.63" r="3.05" fill="#fff" stroke="#1a1718" stroke-width="1.3"/>
<circle cx="1200.50" cy="157.52" r="3.05" fill="#fff" stroke="#1a1718" stroke-width="1.3"/>
<circle cx="1211.90" cy="197.29" r="3.05" fill="#fff" stroke="#1a1718" stroke-width="1.3"/>
<circle cx="1206.20" cy="209.33" r="3.05" fill="#fff" stroke="#1a1718" stroke-width="1.3"/>
<circle cx="1209.21" cy="257.33" r="3.05" fill="#fff" stroke="#1a1718" stroke-width="1.3"/>
<circle cx="1266.40" cy="131.39" r="3.05" fill="#fff" stroke="#1a1718" stroke-width="1.3"/>
<circle cx="1269.25" cy="134.87" r="3.05" fill="#fff" stroke="#1a1718" stroke-width="1.3"/>
<circle cx="1263.23" cy="139.47" r="3.05" fill="#fff" stroke="#1a1718" stroke-width="1.3"/>
<circle cx="1266.40" cy="187.62" r="3.05" fill="#fff" stroke="#1a1718" stroke-width="1.3"/>
<circle cx="1266.40" cy="213.92" r="3.05" fill="#fff" stroke="#1a1718" stroke-width="1.3"/>
<circle cx="1257.52" cy="229.13" r="3.05" fill="#fff" stroke="#1a1718" stroke-width="1.3"/>
<circle cx="1263.23" cy="236.10" r="3.05" fill="#fff" stroke="#1a1718" stroke-width="1.3"/>
<circle cx="1268.93" cy="241.49" r="3.05" fill="#fff" stroke="#1a1718" stroke-width="1.3"/>
<circle cx="1274.95" cy="235.15" r="3.05" fill="#fff" stroke="#1a1718" stroke-width="1.3"/>
<circle cx="1092.14" cy="420.40" r="3.05" fill="#fff" stroke="#1a1718" stroke-width="1.3"/>
<circle cx="1097.84" cy="421.35" r="3.05" fill="#fff" stroke="#1a1718" stroke-width="1.3"/>
<circle cx="1115.90" cy="420.40" r="3.05" fill="#fff" stroke="#1a1718" stroke-width="1.3"/>
<circle cx="1131.11" cy="421.35" r="3.05" fill="#fff" stroke="#1a1718" stroke-width="1.3"/>
<circle cx="1123.50" cy="410.57" r="3.05" fill="#fff" stroke="#1a1718" stroke-width="1.3"/>
<circle cx="1180.53" cy="365.11" r="3.05" fill="#fff" stroke="#1a1718" stroke-width="1.3"/>
<circle cx="1180.53" cy="398.22" r="3.05" fill="#fff" stroke="#1a1718" stroke-width="1.3"/>
<circle cx="1206.20" cy="419.45" r="3.05" fill="#fff" stroke="#1a1718" stroke-width="1.3"/>
<circle cx="1211.90" cy="419.45" r="3.05" fill="#fff" stroke="#1a1718" stroke-width="1.3"/>
<circle cx="1285.30" cy="132.97" r="3.05" fill="#fff" stroke="#1a1718" stroke-width="1.3"/>
<circle cx="1290.05" cy="133.76" r="3.05" fill="#fff" stroke="#1a1718" stroke-width="1.3"/>
<circle cx="1299.24" cy="132.65" r="3.05" fill="#fff" stroke="#1a1718" stroke-width="1.3"/>
<circle cx="1303.67" cy="140.26" r="3.05" fill="#fff" stroke="#1a1718" stroke-width="1.3"/>
<circle cx="1294.49" cy="154.99" r="3.05" fill="#fff" stroke="#1a1718" stroke-width="1.3"/>
<circle cx="1292.11" cy="170.36" r="3.05" fill="#fff" stroke="#1a1718" stroke-width="1.3"/>
<circle cx="1296.86" cy="169.56" r="3.05" fill="#fff" stroke="#1a1718" stroke-width="1.3"/>
<circle cx="1294.49" cy="215.66" r="3.05" fill="#fff" stroke="#1a1718" stroke-width="1.3"/>
<circle cx="1343.12" cy="134.55" r="3.05" fill="#fff" stroke="#1a1718" stroke-width="1.3"/>
<circle cx="1348.82" cy="132.65" r="3.05" fill="#fff" stroke="#1a1718" stroke-width="1.3"/>
<circle cx="1354.52" cy="133.76" r="3.05" fill="#fff" stroke="#1a1718" stroke-width="1.3"/>
<circle cx="1360.23" cy="137.56" r="3.05" fill="#fff" stroke="#1a1718" stroke-width="1.3"/>
<circle cx="1348.82" cy="130.59" r="3.05" fill="#fff" stroke="#1a1718" stroke-width="1.3"/>
<circle cx="1354.52" cy="130.59" r="3.05" fill="#fff" stroke="#1a1718" stroke-width="1.3"/>
<circle cx="1351.67" cy="184.61" r="3.05" fill="#fff" stroke="#1a1718" stroke-width="1.3"/>
<circle cx="1351.67" cy="209.01" r="3.05" fill="#fff" stroke="#1a1718" stroke-width="1.3"/>
<circle cx="1351.67" cy="237.68" r="3.05" fill="#fff" stroke="#1a1718" stroke-width="1.3"/>
<circle cx="1370.52" cy="134.55" r="3.05" fill="#fff" stroke="#1a1718" stroke-width="1.3"/>
<circle cx="1378.29" cy="131.39" r="3.05" fill="#fff" stroke="#1a1718" stroke-width="1.3"/>
<circle cx="1382.09" cy="135.35" r="3.05" fill="#fff" stroke="#1a1718" stroke-width="1.3"/>
<circle cx="1385.89" cy="132.50" r="3.05" fill="#fff" stroke="#1a1718" stroke-width="1.3"/>
<circle cx="1382.09" cy="130.59" r="3.05" fill="#fff" stroke="#1a1718" stroke-width="1.3"/>
<circle cx="1389.69" cy="144.22" r="3.05" fill="#fff" stroke="#1a1718" stroke-width="1.3"/>
<circle cx="1374.49" cy="151.35" r="3.05" fill="#fff" stroke="#1a1718" stroke-width="1.3"/>
<circle cx="1378.29" cy="153.72" r="3.05" fill="#fff" stroke="#1a1718" stroke-width="1.3"/>
<circle cx="1380.19" cy="214.55" r="3.05" fill="#fff" stroke="#1a1718" stroke-width="1.3"/>
<circle cx="1380.19" cy="222.63" r="3.05" fill="#fff" stroke="#1a1718" stroke-width="1.3"/>
<circle cx="1427.40" cy="134.55" r="3.05" fill="#fff" stroke="#1a1718" stroke-width="1.3"/>
<circle cx="1435.79" cy="132.65" r="3.05" fill="#fff" stroke="#1a1718" stroke-width="1.3"/>
<circle cx="1441.34" cy="133.76" r="3.05" fill="#fff" stroke="#1a1718" stroke-width="1.3"/>
<circle cx="1436.90" cy="130.59" r="3.05" fill="#fff" stroke="#1a1718" stroke-width="1.3"/>
<circle cx="1432.94" cy="141.37" r="3.05" fill="#fff" stroke="#1a1718" stroke-width="1.3"/>
<circle cx="1444.19" cy="146.44" r="3.05" fill="#fff" stroke="#1a1718" stroke-width="1.3"/>
<circle cx="1430.25" cy="152.30" r="3.05" fill="#fff" stroke="#1a1718" stroke-width="1.3"/>
<circle cx="1447.20" cy="152.77" r="3.05" fill="#fff" stroke="#1a1718" stroke-width="1.3"/>
<circle cx="1456.07" cy="133.76" r="3.05" fill="#fff" stroke="#1a1718" stroke-width="1.3"/>
<circle cx="1461.93" cy="131.54" r="3.05" fill="#fff" stroke="#1a1718" stroke-width="1.3"/>
<circle cx="1469.38" cy="131.54" r="3.05" fill="#fff" stroke="#1a1718" stroke-width="1.3"/>
<circle cx="1465.89" cy="130.59" r="3.05" fill="#fff" stroke="#1a1718" stroke-width="1.3"/>
<circle cx="1471.44" cy="136.46" r="3.05" fill="#fff" stroke="#1a1718" stroke-width="1.3"/>
<circle cx="1463.51" cy="143.43" r="3.05" fill="#fff" stroke="#1a1718" stroke-width="1.3"/>
<circle cx="1475.40" cy="146.44" r="3.05" fill="#fff" stroke="#1a1718" stroke-width="1.3"/>
<circle cx="1465.73" cy="161.49" r="3.05" fill="#fff" stroke="#1a1718" stroke-width="1.3"/>
<circle cx="1294.49" cy="369.23" r="3.05" fill="#fff" stroke="#1a1718" stroke-width="1.3"/>
<circle cx="1294.49" cy="396.16" r="3.05" fill="#fff" stroke="#1a1718" stroke-width="1.3"/>
<text transform="translate(1103.20,443.40) scale(1,1.04)" font-size="24.6" text-anchor="middle" fill="#1a1718">80</text>
<text transform="translate(1188.75,443.40) scale(1,1.04)" font-size="24.6" text-anchor="middle" fill="#1a1718">200</text>
<text transform="translate(1274.30,443.40) scale(1,1.04)" font-size="24.6" text-anchor="middle" fill="#1a1718">400</text>
<text transform="translate(1359.85,443.40) scale(1,1.04)" font-size="24.6" text-anchor="middle" fill="#1a1718">800</text>
<text transform="translate(1445.40,443.40) scale(1,1.04)" font-size="24.6" text-anchor="middle" fill="#1a1718">1600</text>
<text x="1213.50" y="480.60" font-size="24.6" fill="#1a1718"><tspan font-style="italic">I</tspan> (mW<tspan dx="1"> </tspan>mm<tspan font-size="16" dy="-8.2">-2</tspan><tspan dy="8.2">)</tspan></text>
<text transform="translate(1003.60,272.00) rotate(-90)" font-size="24.6" text-anchor="middle" fill="#1a1718">Spike probability</text>
<text transform="translate(1109.30,96.80) scale(1,1.04)" font-size="24.6" text-anchor="middle" fill="#1a1718">NS</text>
<line x1="1090.90" y1="105.60" x2="1127.70" y2="105.60" stroke="#1a1718" stroke-width="2.1" stroke-linecap="butt"/>
<text transform="translate(1194.85,96.80) scale(1,1.04)" font-size="24.6" text-anchor="middle" fill="#1a1718">NS</text>
<line x1="1176.45" y1="105.60" x2="1213.25" y2="105.60" stroke="#1a1718" stroke-width="2.1" stroke-linecap="butt"/>
<text transform="translate(1280.40,96.80) scale(1,1.04)" font-size="24.6" text-anchor="middle" fill="#1a1718">NS</text>
<line x1="1262.00" y1="105.60" x2="1298.80" y2="105.60" stroke="#1a1718" stroke-width="2.1" stroke-linecap="butt"/>
<text transform="translate(1365.95,96.80) scale(1,1.04)" font-size="24.6" text-anchor="middle" fill="#1a1718">NS</text>
<line x1="1347.55" y1="105.60" x2="1384.35" y2="105.60" stroke="#1a1718" stroke-width="2.1" stroke-linecap="butt"/>
<text transform="translate(1451.50,96.80) scale(1,1.04)" font-size="24.6" text-anchor="middle" fill="#1a1718">NS</text>
<line x1="1433.10" y1="105.60" x2="1469.90" y2="105.60" stroke="#1a1718" stroke-width="2.1" stroke-linecap="butt"/></g>
<g id="panel-e"><rect x="1084.83" y="770.62" width="22.95" height="68.58" fill="#fff" stroke="#1a1718" stroke-width="1.85"/>
<rect x="1113.98" y="771.88" width="22.65" height="67.33" fill="#a7a9ac" stroke="#1a1718" stroke-width="2.15"/>
<rect x="1170.38" y="753.22" width="22.95" height="85.98" fill="#fff" stroke="#1a1718" stroke-width="1.85"/>
<rect x="1199.53" y="756.08" width="22.65" height="83.13" fill="#a7a9ac" stroke="#1a1718" stroke-width="2.15"/>
<rect x="1255.92" y="744.82" width="22.95" height="94.38" fill="#fff" stroke="#1a1718" stroke-width="1.85"/>
<rect x="1285.08" y="748.08" width="22.65" height="91.13" fill="#a7a9ac" stroke="#1a1718" stroke-width="2.15"/>
<rect x="1341.48" y="730.52" width="22.95" height="108.68" fill="#fff" stroke="#1a1718" stroke-width="1.85"/>
<rect x="1370.63" y="725.48" width="22.65" height="113.73" fill="#a7a9ac" stroke="#1a1718" stroke-width="2.15"/>
<rect x="1427.03" y="709.12" width="22.95" height="130.07" fill="#fff" stroke="#1a1718" stroke-width="1.85"/>
<rect x="1456.18" y="697.38" width="22.65" height="141.83" fill="#a7a9ac" stroke="#1a1718" stroke-width="2.15"/>
<line x1="1082.20" y1="828.20" x2="1082.20" y2="839.20" stroke="#1a1718" stroke-width="2.8" stroke-linecap="butt"/>
<line x1="1139.00" y1="828.20" x2="1139.00" y2="839.20" stroke="#1a1718" stroke-width="2.8" stroke-linecap="butt"/>
<line x1="1167.75" y1="828.20" x2="1167.75" y2="839.20" stroke="#1a1718" stroke-width="2.8" stroke-linecap="butt"/>
<line x1="1224.55" y1="828.20" x2="1224.55" y2="839.20" stroke="#1a1718" stroke-width="2.8" stroke-linecap="butt"/>
<line x1="1253.30" y1="828.20" x2="1253.30" y2="839.20" stroke="#1a1718" stroke-width="2.8" stroke-linecap="butt"/>
<line x1="1310.10" y1="828.20" x2="1310.10" y2="839.20" stroke="#1a1718" stroke-width="2.8" stroke-linecap="butt"/>
<line x1="1338.85" y1="828.20" x2="1338.85" y2="839.20" stroke="#1a1718" stroke-width="2.8" stroke-linecap="butt"/>
<line x1="1395.65" y1="828.20" x2="1395.65" y2="839.20" stroke="#1a1718" stroke-width="2.8" stroke-linecap="butt"/>
<line x1="1424.40" y1="828.20" x2="1424.40" y2="839.20" stroke="#1a1718" stroke-width="2.8" stroke-linecap="butt"/>
<line x1="1481.20" y1="828.20" x2="1481.20" y2="839.20" stroke="#1a1718" stroke-width="2.8" stroke-linecap="butt"/>
<line x1="1068.20" y1="534.60" x2="1068.20" y2="840.40" stroke="#1a1718" stroke-width="2.5" stroke-linecap="butt"/>
<line x1="1067.00" y1="839.20" x2="1496.80" y2="839.20" stroke="#1a1718" stroke-width="2.5" stroke-linecap="butt"/>
<line x1="1068.20" y1="535.60" x2="1080.70" y2="535.60" stroke="#1a1718" stroke-width="2.5" stroke-linecap="butt"/>
<text transform="translate(1057.70,544.30) scale(1,1.04)" font-size="24.6" text-anchor="end" fill="#1a1718">5</text>
<line x1="1068.20" y1="596.40" x2="1080.70" y2="596.40" stroke="#1a1718" stroke-width="2.5" stroke-linecap="butt"/>
<text transform="translate(1057.70,605.10) scale(1,1.04)" font-size="24.6" text-anchor="end" fill="#1a1718">4</text>
<line x1="1068.20" y1="657.10" x2="1080.70" y2="657.10" stroke="#1a1718" stroke-width="2.5" stroke-linecap="butt"/>
<text transform="translate(1057.70,665.80) scale(1,1.04)" font-size="24.6" text-anchor="end" fill="#1a1718">3</text>
<line x1="1068.20" y1="717.90" x2="1080.70" y2="717.90" stroke="#1a1718" stroke-width="2.5" stroke-linecap="butt"/>
<text transform="translate(1057.70,726.60) scale(1,1.04)" font-size="24.6" text-anchor="end" fill="#1a1718">2</text>
<line x1="1068.20" y1="778.50" x2="1080.70" y2="778.50" stroke="#1a1718" stroke-width="2.5" stroke-linecap="butt"/>
<text transform="translate(1057.70,787.20) scale(1,1.04)" font-size="24.6" text-anchor="end" fill="#1a1718">1</text>
<line x1="1068.20" y1="839.20" x2="1080.70" y2="839.20" stroke="#1a1718" stroke-width="2.5" stroke-linecap="butt"/>
<text transform="translate(1057.70,847.90) scale(1,1.04)" font-size="24.6" text-anchor="end" fill="#1a1718">0</text>
<line x1="1096.42" y1="760.18" x2="1096.42" y2="780.30" stroke="#1a1718" stroke-width="1.55" stroke-linecap="butt"/><line x1="1090.17" y1="760.18" x2="1102.67" y2="760.18" stroke="#1a1718" stroke-width="1.55" stroke-linecap="butt"/><line x1="1090.17" y1="780.30" x2="1102.67" y2="780.30" stroke="#1a1718" stroke-width="1.55" stroke-linecap="butt"/>
<line x1="1125.72" y1="760.97" x2="1125.72" y2="781.41" stroke="#1a1718" stroke-width="1.55" stroke-linecap="butt"/><line x1="1119.47" y1="760.97" x2="1131.97" y2="760.97" stroke="#1a1718" stroke-width="1.55" stroke-linecap="butt"/><line x1="1119.47" y1="781.41" x2="1131.97" y2="781.41" stroke="#1a1718" stroke-width="1.55" stroke-linecap="butt"/>
<line x1="1181.96" y1="742.59" x2="1181.96" y2="762.55" stroke="#1a1718" stroke-width="1.55" stroke-linecap="butt"/><line x1="1175.71" y1="742.59" x2="1188.21" y2="742.59" stroke="#1a1718" stroke-width="1.55" stroke-linecap="butt"/><line x1="1175.71" y1="762.55" x2="1188.21" y2="762.55" stroke="#1a1718" stroke-width="1.55" stroke-linecap="butt"/>
<line x1="1210.79" y1="745.76" x2="1210.79" y2="764.93" stroke="#1a1718" stroke-width="1.55" stroke-linecap="butt"/><line x1="1204.54" y1="745.76" x2="1217.04" y2="745.76" stroke="#1a1718" stroke-width="1.55" stroke-linecap="butt"/><line x1="1204.54" y1="764.93" x2="1217.04" y2="764.93" stroke="#1a1718" stroke-width="1.55" stroke-linecap="butt"/>
<line x1="1267.50" y1="730.55" x2="1267.50" y2="758.59" stroke="#1a1718" stroke-width="1.55" stroke-linecap="butt"/><line x1="1261.25" y1="730.55" x2="1273.75" y2="730.55" stroke="#1a1718" stroke-width="1.55" stroke-linecap="butt"/><line x1="1261.25" y1="758.59" x2="1273.75" y2="758.59" stroke="#1a1718" stroke-width="1.55" stroke-linecap="butt"/>
<line x1="1296.39" y1="738.32" x2="1296.39" y2="757.01" stroke="#1a1718" stroke-width="1.55" stroke-linecap="butt"/><line x1="1290.14" y1="738.32" x2="1302.64" y2="738.32" stroke="#1a1718" stroke-width="1.55" stroke-linecap="butt"/><line x1="1290.14" y1="757.01" x2="1302.64" y2="757.01" stroke="#1a1718" stroke-width="1.55" stroke-linecap="butt"/>
<line x1="1353.10" y1="710.91" x2="1353.10" y2="748.77" stroke="#1a1718" stroke-width="1.55" stroke-linecap="butt"/><line x1="1346.85" y1="710.91" x2="1359.35" y2="710.91" stroke="#1a1718" stroke-width="1.55" stroke-linecap="butt"/><line x1="1346.85" y1="748.77" x2="1359.35" y2="748.77" stroke="#1a1718" stroke-width="1.55" stroke-linecap="butt"/>
<line x1="1381.93" y1="712.97" x2="1381.93" y2="736.26" stroke="#1a1718" stroke-width="1.55" stroke-linecap="butt"/><line x1="1375.68" y1="712.97" x2="1388.18" y2="712.97" stroke="#1a1718" stroke-width="1.55" stroke-linecap="butt"/><line x1="1375.68" y1="736.26" x2="1388.18" y2="736.26" stroke="#1a1718" stroke-width="1.55" stroke-linecap="butt"/>
<line x1="1438.64" y1="687.67" x2="1438.64" y2="728.50" stroke="#1a1718" stroke-width="1.55" stroke-linecap="butt"/><line x1="1432.39" y1="687.67" x2="1444.89" y2="687.67" stroke="#1a1718" stroke-width="1.55" stroke-linecap="butt"/><line x1="1432.39" y1="728.50" x2="1444.89" y2="728.50" stroke="#1a1718" stroke-width="1.55" stroke-linecap="butt"/>
<line x1="1467.16" y1="681.65" x2="1467.16" y2="711.07" stroke="#1a1718" stroke-width="1.55" stroke-linecap="butt"/><line x1="1460.91" y1="681.65" x2="1473.41" y2="681.65" stroke="#1a1718" stroke-width="1.55" stroke-linecap="butt"/><line x1="1460.91" y1="711.07" x2="1473.41" y2="711.07" stroke="#1a1718" stroke-width="1.55" stroke-linecap="butt"/>
<circle cx="1086.91" cy="752.10" r="3.05" fill="#fff" stroke="#1a1718" stroke-width="1.3"/>
<circle cx="1094.67" cy="745.45" r="3.05" fill="#fff" stroke="#1a1718" stroke-width="1.3"/>
<circle cx="1098.48" cy="746.08" r="3.05" fill="#fff" stroke="#1a1718" stroke-width="1.3"/>
<circle cx="1094.36" cy="750.99" r="3.05" fill="#fff" stroke="#1a1718" stroke-width="1.3"/>
<circle cx="1090.87" cy="764.93" r="3.05" fill="#fff" stroke="#1a1718" stroke-width="1.3"/>
<circle cx="1098.48" cy="779.19" r="3.05" fill="#fff" stroke="#1a1718" stroke-width="1.3"/>
<circle cx="1101.96" cy="778.08" r="3.05" fill="#fff" stroke="#1a1718" stroke-width="1.3"/>
<circle cx="1105.76" cy="776.97" r="3.05" fill="#fff" stroke="#1a1718" stroke-width="1.3"/>
<circle cx="1118.12" cy="751.47" r="3.05" fill="#fff" stroke="#1a1718" stroke-width="1.3"/>
<circle cx="1114.95" cy="755.74" r="3.05" fill="#fff" stroke="#1a1718" stroke-width="1.3"/>
<circle cx="1124.93" cy="711.07" r="3.05" fill="#fff" stroke="#1a1718" stroke-width="1.3"/>
<circle cx="1123.19" cy="768.42" r="3.05" fill="#fff" stroke="#1a1718" stroke-width="1.3"/>
<circle cx="1120.50" cy="773.17" r="3.05" fill="#fff" stroke="#1a1718" stroke-width="1.3"/>
<circle cx="1126.04" cy="779.19" r="3.05" fill="#fff" stroke="#1a1718" stroke-width="1.3"/>
<circle cx="1129.21" cy="778.08" r="3.05" fill="#fff" stroke="#1a1718" stroke-width="1.3"/>
<circle cx="1132.06" cy="776.34" r="3.05" fill="#fff" stroke="#1a1718" stroke-width="1.3"/>
<circle cx="1135.07" cy="779.19" r="3.05" fill="#fff" stroke="#1a1718" stroke-width="1.3"/>
<circle cx="1180.22" cy="703.62" r="3.05" fill="#fff" stroke="#1a1718" stroke-width="1.3"/>
<circle cx="1184.02" cy="712.18" r="3.05" fill="#fff" stroke="#1a1718" stroke-width="1.3"/>
<circle cx="1181.96" cy="733.88" r="3.05" fill="#fff" stroke="#1a1718" stroke-width="1.3"/>
<circle cx="1187.82" cy="753.84" r="3.05" fill="#fff" stroke="#1a1718" stroke-width="1.3"/>
<circle cx="1191.62" cy="761.29" r="3.05" fill="#fff" stroke="#1a1718" stroke-width="1.3"/>
<circle cx="1172.46" cy="776.34" r="3.05" fill="#fff" stroke="#1a1718" stroke-width="1.3"/>
<circle cx="1176.73" cy="777.45" r="3.05" fill="#fff" stroke="#1a1718" stroke-width="1.3"/>
<circle cx="1180.22" cy="779.19" r="3.05" fill="#fff" stroke="#1a1718" stroke-width="1.3"/>
<circle cx="1184.02" cy="779.19" r="3.05" fill="#fff" stroke="#1a1718" stroke-width="1.3"/>
<circle cx="1212.38" cy="728.34" r="3.05" fill="#fff" stroke="#1a1718" stroke-width="1.3"/>
<circle cx="1208.89" cy="737.05" r="3.05" fill="#fff" stroke="#1a1718" stroke-width="1.3"/>
<circle cx="1204.14" cy="759.70" r="3.05" fill="#fff" stroke="#1a1718" stroke-width="1.3"/>
<circle cx="1207.31" cy="759.70" r="3.05" fill="#fff" stroke="#1a1718" stroke-width="1.3"/>
<circle cx="1200.50" cy="779.19" r="3.05" fill="#fff" stroke="#1a1718" stroke-width="1.3"/>
<circle cx="1210.48" cy="776.97" r="3.05" fill="#fff" stroke="#1a1718" stroke-width="1.3"/>
<circle cx="1213.49" cy="776.34" r="3.05" fill="#fff" stroke="#1a1718" stroke-width="1.3"/>
<circle cx="1216.65" cy="775.54" r="3.05" fill="#fff" stroke="#1a1718" stroke-width="1.3"/>
<circle cx="1220.46" cy="779.19" r="3.05" fill="#fff" stroke="#1a1718" stroke-width="1.3"/>
<circle cx="1267.50" cy="726.75" r="3.05" fill="#fff" stroke="#1a1718" stroke-width="1.3"/>
<circle cx="1273.37" cy="750.51" r="3.05" fill="#fff" stroke="#1a1718" stroke-width="1.3"/>
<circle cx="1277.01" cy="761.29" r="3.05" fill="#fff" stroke="#1a1718" stroke-width="1.3"/>
<circle cx="1258.00" cy="776.34" r="3.05" fill="#fff" stroke="#1a1718" stroke-width="1.3"/>
<circle cx="1261.80" cy="776.34" r="3.05" fill="#fff" stroke="#1a1718" stroke-width="1.3"/>
<circle cx="1265.45" cy="778.71" r="3.05" fill="#fff" stroke="#1a1718" stroke-width="1.3"/>
<circle cx="1269.41" cy="778.71" r="3.05" fill="#fff" stroke="#1a1718" stroke-width="1.3"/>
<circle cx="1210.32" cy="684.66" r="3.05" fill="#fff" stroke="#1a1718" stroke-width="1.3"/>
<circle cx="1269.41" cy="668.35" r="3.05" fill="#fff" stroke="#1a1718" stroke-width="1.3"/>
<circle cx="1265.60" cy="684.82" r="3.05" fill="#fff" stroke="#1a1718" stroke-width="1.3"/>
<circle cx="1293.69" cy="704.57" r="3.05" fill="#fff" stroke="#1a1718" stroke-width="1.3"/>
<circle cx="1298.29" cy="711.07" r="3.05" fill="#fff" stroke="#1a1718" stroke-width="1.3"/>
<circle cx="1300.66" cy="723.58" r="3.05" fill="#fff" stroke="#1a1718" stroke-width="1.3"/>
<circle cx="1291.32" cy="733.56" r="3.05" fill="#fff" stroke="#1a1718" stroke-width="1.3"/>
<circle cx="1295.91" cy="734.04" r="3.05" fill="#fff" stroke="#1a1718" stroke-width="1.3"/>
<circle cx="1291.32" cy="767.31" r="3.05" fill="#fff" stroke="#1a1718" stroke-width="1.3"/>
<circle cx="1295.91" cy="773.49" r="3.05" fill="#fff" stroke="#1a1718" stroke-width="1.3"/>
<circle cx="1300.66" cy="771.90" r="3.05" fill="#fff" stroke="#1a1718" stroke-width="1.3"/>
<circle cx="1287.20" cy="777.60" r="3.05" fill="#fff" stroke="#1a1718" stroke-width="1.3"/>
<circle cx="1305.10" cy="779.19" r="3.05" fill="#fff" stroke="#1a1718" stroke-width="1.3"/>
<circle cx="1353.10" cy="715.66" r="3.05" fill="#fff" stroke="#1a1718" stroke-width="1.3"/>
<circle cx="1358.64" cy="749.41" r="3.05" fill="#fff" stroke="#1a1718" stroke-width="1.3"/>
<circle cx="1351.20" cy="759.70" r="3.05" fill="#fff" stroke="#1a1718" stroke-width="1.3"/>
<circle cx="1362.60" cy="760.02" r="3.05" fill="#fff" stroke="#1a1718" stroke-width="1.3"/>
<circle cx="1355.00" cy="767.62" r="3.05" fill="#fff" stroke="#1a1718" stroke-width="1.3"/>
<circle cx="1343.44" cy="772.38" r="3.05" fill="#fff" stroke="#1a1718" stroke-width="1.3"/>
<circle cx="1347.55" cy="772.38" r="3.05" fill="#fff" stroke="#1a1718" stroke-width="1.3"/>
<circle cx="1390.17" cy="692.06" r="3.05" fill="#fff" stroke="#1a1718" stroke-width="1.3"/>
<circle cx="1372.90" cy="700.61" r="3.05" fill="#fff" stroke="#1a1718" stroke-width="1.3"/>
<circle cx="1378.76" cy="711.07" r="3.05" fill="#fff" stroke="#1a1718" stroke-width="1.3"/>
<circle cx="1384.31" cy="716.14" r="3.05" fill="#fff" stroke="#1a1718" stroke-width="1.3"/>
<circle cx="1384.31" cy="729.92" r="3.05" fill="#fff" stroke="#1a1718" stroke-width="1.3"/>
<circle cx="1378.76" cy="740.38" r="3.05" fill="#fff" stroke="#1a1718" stroke-width="1.3"/>
<circle cx="1375.91" cy="758.91" r="3.05" fill="#fff" stroke="#1a1718" stroke-width="1.3"/>
<circle cx="1381.61" cy="764.61" r="3.05" fill="#fff" stroke="#1a1718" stroke-width="1.3"/>
<circle cx="1387.48" cy="776.02" r="3.05" fill="#fff" stroke="#1a1718" stroke-width="1.3"/>
<circle cx="1434.68" cy="709.49" r="3.05" fill="#fff" stroke="#1a1718" stroke-width="1.3"/>
<circle cx="1442.60" cy="717.41" r="3.05" fill="#fff" stroke="#1a1718" stroke-width="1.3"/>
<circle cx="1434.68" cy="719.78" r="3.05" fill="#fff" stroke="#1a1718" stroke-width="1.3"/>
<circle cx="1442.60" cy="746.55" r="3.05" fill="#fff" stroke="#1a1718" stroke-width="1.3"/>
<circle cx="1438.49" cy="751.47" r="3.05" fill="#fff" stroke="#1a1718" stroke-width="1.3"/>
<circle cx="1430.88" cy="752.10" r="3.05" fill="#fff" stroke="#1a1718" stroke-width="1.3"/>
<circle cx="1446.41" cy="764.14" r="3.05" fill="#fff" stroke="#1a1718" stroke-width="1.3"/>
<circle cx="1469.53" cy="704.26" r="3.05" fill="#fff" stroke="#1a1718" stroke-width="1.3"/>
<circle cx="1471.91" cy="726.75" r="3.05" fill="#fff" stroke="#1a1718" stroke-width="1.3"/>
<circle cx="1466.68" cy="728.34" r="3.05" fill="#fff" stroke="#1a1718" stroke-width="1.3"/>
<circle cx="1462.41" cy="731.50" r="3.05" fill="#fff" stroke="#1a1718" stroke-width="1.3"/>
<circle cx="1476.19" cy="736.89" r="3.05" fill="#fff" stroke="#1a1718" stroke-width="1.3"/>
<circle cx="1457.97" cy="743.86" r="3.05" fill="#fff" stroke="#1a1718" stroke-width="1.3"/>
<circle cx="1353.10" cy="626.68" r="3.05" fill="#fff" stroke="#1a1718" stroke-width="1.3"/>
<circle cx="1353.10" cy="644.90" r="3.05" fill="#fff" stroke="#1a1718" stroke-width="1.3"/>
<circle cx="1381.46" cy="656.47" r="3.05" fill="#fff" stroke="#1a1718" stroke-width="1.3"/>
<circle cx="1438.49" cy="581.53" r="3.05" fill="#fff" stroke="#1a1718" stroke-width="1.3"/>
<circle cx="1438.49" cy="633.34" r="3.05" fill="#fff" stroke="#1a1718" stroke-width="1.3"/>
<circle cx="1467.16" cy="600.70" r="3.05" fill="#fff" stroke="#1a1718" stroke-width="1.3"/>
<circle cx="1467.16" cy="645.38" r="3.05" fill="#fff" stroke="#1a1718" stroke-width="1.3"/>
<circle cx="1467.16" cy="660.43" r="3.05" fill="#fff" stroke="#1a1718" stroke-width="1.3"/>
<circle cx="1464.31" cy="687.67" r="3.05" fill="#fff" stroke="#1a1718" stroke-width="1.3"/>
<text transform="translate(1103.20,861.90) scale(1,1.04)" font-size="24.6" text-anchor="middle" fill="#1a1718">80</text>
<text transform="translate(1188.75,861.90) scale(1,1.04)" font-size="24.6" text-anchor="middle" fill="#1a1718">200</text>
<text transform="translate(1274.30,861.90) scale(1,1.04)" font-size="24.6" text-anchor="middle" fill="#1a1718">400</text>
<text transform="translate(1359.85,861.90) scale(1,1.04)" font-size="24.6" text-anchor="middle" fill="#1a1718">800</text>
<text transform="translate(1445.40,861.90) scale(1,1.04)" font-size="24.6" text-anchor="middle" fill="#1a1718">1600</text>
<text x="1213.50" y="899.10" font-size="24.6" fill="#1a1718"><tspan font-style="italic">I</tspan> (mW<tspan dx="1"> </tspan>mm<tspan font-size="16" dy="-8.2">-2</tspan><tspan dy="8.2">)</tspan></text>
<text transform="translate(1003.60,688.50) rotate(-90)" font-size="24.6" text-anchor="middle" fill="#1a1718">Spikes per trial</text>
<text transform="translate(1112.20,539.60) scale(1,1.04)" font-size="24.6" text-anchor="middle" fill="#1a1718">NS</text>
<line x1="1093.80" y1="548.40" x2="1130.60" y2="548.40" stroke="#1a1718" stroke-width="2.1" stroke-linecap="butt"/>
<text transform="translate(1197.75,539.60) scale(1,1.04)" font-size="24.6" text-anchor="middle" fill="#1a1718">NS</text>
<line x1="1179.35" y1="548.40" x2="1216.15" y2="548.40" stroke="#1a1718" stroke-width="2.1" stroke-linecap="butt"/>
<text transform="translate(1283.30,539.60) scale(1,1.04)" font-size="24.6" text-anchor="middle" fill="#1a1718">NS</text>
<line x1="1264.90" y1="548.40" x2="1301.70" y2="548.40" stroke="#1a1718" stroke-width="2.1" stroke-linecap="butt"/>
<text transform="translate(1368.85,539.60) scale(1,1.04)" font-size="24.6" text-anchor="middle" fill="#1a1718">NS</text>
<line x1="1350.45" y1="548.40" x2="1387.25" y2="548.40" stroke="#1a1718" stroke-width="2.1" stroke-linecap="butt"/>
<text transform="translate(1454.40,539.60) scale(1,1.04)" font-size="24.6" text-anchor="middle" fill="#1a1718">NS</text>
<line x1="1436.00" y1="548.40" x2="1472.80" y2="548.40" stroke="#1a1718" stroke-width="2.1" stroke-linecap="butt"/></g>
<g id="panel-f"><rect x="1084.52" y="1142.02" width="22.95" height="128.38" fill="#fff" stroke="#1a1718" stroke-width="1.85"/>
<rect x="1113.47" y="1134.58" width="22.65" height="135.83" fill="#a7a9ac" stroke="#1a1718" stroke-width="2.15"/>
<rect x="1170.07" y="1133.12" width="22.95" height="137.28" fill="#fff" stroke="#1a1718" stroke-width="1.85"/>
<rect x="1199.02" y="1143.78" width="22.65" height="126.63" fill="#a7a9ac" stroke="#1a1718" stroke-width="2.15"/>
<rect x="1255.62" y="1144.62" width="22.95" height="125.78" fill="#fff" stroke="#1a1718" stroke-width="1.85"/>
<rect x="1284.57" y="1159.98" width="22.65" height="110.42" fill="#a7a9ac" stroke="#1a1718" stroke-width="2.15"/>
<rect x="1341.17" y="1169.42" width="22.95" height="100.98" fill="#fff" stroke="#1a1718" stroke-width="1.85"/>
<rect x="1370.12" y="1177.48" width="22.65" height="92.92" fill="#a7a9ac" stroke="#1a1718" stroke-width="2.15"/>
<rect x="1426.72" y="1184.02" width="22.95" height="86.38" fill="#fff" stroke="#1a1718" stroke-width="1.85"/>
<rect x="1455.67" y="1190.67" width="22.65" height="79.73" fill="#a7a9ac" stroke="#1a1718" stroke-width="2.15"/>
<line x1="1081.20" y1="1259.40" x2="1081.20" y2="1270.40" stroke="#1a1718" stroke-width="2.8" stroke-linecap="butt"/>
<line x1="1109.80" y1="1259.40" x2="1109.80" y2="1270.40" stroke="#1a1718" stroke-width="2.8" stroke-linecap="butt"/>
<line x1="1138.20" y1="1259.40" x2="1138.20" y2="1270.40" stroke="#1a1718" stroke-width="2.8" stroke-linecap="butt"/>
<line x1="1166.75" y1="1259.40" x2="1166.75" y2="1270.40" stroke="#1a1718" stroke-width="2.8" stroke-linecap="butt"/>
<line x1="1195.35" y1="1259.40" x2="1195.35" y2="1270.40" stroke="#1a1718" stroke-width="2.8" stroke-linecap="butt"/>
<line x1="1223.75" y1="1259.40" x2="1223.75" y2="1270.40" stroke="#1a1718" stroke-width="2.8" stroke-linecap="butt"/>
<line x1="1252.30" y1="1259.40" x2="1252.30" y2="1270.40" stroke="#1a1718" stroke-width="2.8" stroke-linecap="butt"/>
<line x1="1280.90" y1="1259.40" x2="1280.90" y2="1270.40" stroke="#1a1718" stroke-width="2.8" stroke-linecap="butt"/>
<line x1="1309.30" y1="1259.40" x2="1309.30" y2="1270.40" stroke="#1a1718" stroke-width="2.8" stroke-linecap="butt"/>
<line x1="1337.85" y1="1259.40" x2="1337.85" y2="1270.40" stroke="#1a1718" stroke-width="2.8" stroke-linecap="butt"/>
<line x1="1366.45" y1="1259.40" x2="1366.45" y2="1270.40" stroke="#1a1718" stroke-width="2.8" stroke-linecap="butt"/>
<line x1="1394.85" y1="1259.40" x2="1394.85" y2="1270.40" stroke="#1a1718" stroke-width="2.8" stroke-linecap="butt"/>
<line x1="1423.40" y1="1259.40" x2="1423.40" y2="1270.40" stroke="#1a1718" stroke-width="2.8" stroke-linecap="butt"/>
<line x1="1452.00" y1="1259.40" x2="1452.00" y2="1270.40" stroke="#1a1718" stroke-width="2.8" stroke-linecap="butt"/>
<line x1="1480.40" y1="1259.40" x2="1480.40" y2="1270.40" stroke="#1a1718" stroke-width="2.8" stroke-linecap="butt"/>
<line x1="1067.10" y1="965.70" x2="1067.10" y2="1271.60" stroke="#1a1718" stroke-width="2.5" stroke-linecap="butt"/>
<line x1="1065.90" y1="1270.40" x2="1496.00" y2="1270.40" stroke="#1a1718" stroke-width="2.5" stroke-linecap="butt"/>
<line x1="1067.10" y1="966.70" x2="1079.60" y2="966.70" stroke="#1a1718" stroke-width="2.5" stroke-linecap="butt"/>
<text transform="translate(1058.20,975.40) scale(1,1.04)" font-size="24.6" text-anchor="end" fill="#1a1718">25</text>
<line x1="1067.10" y1="1027.40" x2="1079.60" y2="1027.40" stroke="#1a1718" stroke-width="2.5" stroke-linecap="butt"/>
<text transform="translate(1058.20,1036.10) scale(1,1.04)" font-size="24.6" text-anchor="end" fill="#1a1718">20</text>
<line x1="1067.10" y1="1088.20" x2="1079.60" y2="1088.20" stroke="#1a1718" stroke-width="2.5" stroke-linecap="butt"/>
<text transform="translate(1058.20,1096.90) scale(1,1.04)" font-size="24.6" text-anchor="end" fill="#1a1718">15</text>
<line x1="1067.10" y1="1148.90" x2="1079.60" y2="1148.90" stroke="#1a1718" stroke-width="2.5" stroke-linecap="butt"/>
<text transform="translate(1058.20,1157.60) scale(1,1.04)" font-size="24.6" text-anchor="end" fill="#1a1718">10</text>
<line x1="1067.10" y1="1209.70" x2="1079.60" y2="1209.70" stroke="#1a1718" stroke-width="2.5" stroke-linecap="butt"/>
<text transform="translate(1058.20,1218.40) scale(1,1.04)" font-size="24.6" text-anchor="end" fill="#1a1718">5</text>
<line x1="1067.10" y1="1270.40" x2="1079.60" y2="1270.40" stroke="#1a1718" stroke-width="2.5" stroke-linecap="butt"/>
<text transform="translate(1058.20,1279.10) scale(1,1.04)" font-size="24.6" text-anchor="end" fill="#1a1718">0</text>
<line x1="1095.94" y1="1125.59" x2="1095.94" y2="1153.76" stroke="#1a1718" stroke-width="1.55" stroke-linecap="butt"/><line x1="1089.69" y1="1125.59" x2="1102.19" y2="1125.59" stroke="#1a1718" stroke-width="1.55" stroke-linecap="butt"/><line x1="1089.69" y1="1153.76" x2="1102.19" y2="1153.76" stroke="#1a1718" stroke-width="1.55" stroke-linecap="butt"/>
<line x1="1123.98" y1="1121.16" x2="1123.98" y2="1146.63" stroke="#1a1718" stroke-width="1.55" stroke-linecap="butt"/><line x1="1117.73" y1="1121.16" x2="1130.23" y2="1121.16" stroke="#1a1718" stroke-width="1.55" stroke-linecap="butt"/><line x1="1117.73" y1="1146.63" x2="1130.23" y2="1146.63" stroke="#1a1718" stroke-width="1.55" stroke-linecap="butt"/>
<line x1="1181.17" y1="1110.54" x2="1181.17" y2="1154.55" stroke="#1a1718" stroke-width="1.55" stroke-linecap="butt"/><line x1="1174.92" y1="1110.54" x2="1187.42" y2="1110.54" stroke="#1a1718" stroke-width="1.55" stroke-linecap="butt"/><line x1="1174.92" y1="1154.55" x2="1187.42" y2="1154.55" stroke="#1a1718" stroke-width="1.55" stroke-linecap="butt"/>
<line x1="1209.84" y1="1128.76" x2="1209.84" y2="1158.20" stroke="#1a1718" stroke-width="1.55" stroke-linecap="butt"/><line x1="1203.59" y1="1128.76" x2="1216.09" y2="1128.76" stroke="#1a1718" stroke-width="1.55" stroke-linecap="butt"/><line x1="1203.59" y1="1158.20" x2="1216.09" y2="1158.20" stroke="#1a1718" stroke-width="1.55" stroke-linecap="butt"/>
<line x1="1267.03" y1="1125.91" x2="1267.03" y2="1161.68" stroke="#1a1718" stroke-width="1.55" stroke-linecap="butt"/><line x1="1260.78" y1="1125.91" x2="1273.28" y2="1125.91" stroke="#1a1718" stroke-width="1.55" stroke-linecap="butt"/><line x1="1260.78" y1="1161.68" x2="1273.28" y2="1161.68" stroke="#1a1718" stroke-width="1.55" stroke-linecap="butt"/>
<line x1="1295.59" y1="1149.33" x2="1295.59" y2="1169.29" stroke="#1a1718" stroke-width="1.55" stroke-linecap="butt"/><line x1="1289.34" y1="1149.33" x2="1301.84" y2="1149.33" stroke="#1a1718" stroke-width="1.55" stroke-linecap="butt"/><line x1="1289.34" y1="1169.29" x2="1301.84" y2="1169.29" stroke="#1a1718" stroke-width="1.55" stroke-linecap="butt"/>
<line x1="1352.15" y1="1157.72" x2="1352.15" y2="1179.90" stroke="#1a1718" stroke-width="1.55" stroke-linecap="butt"/><line x1="1345.90" y1="1157.72" x2="1358.40" y2="1157.72" stroke="#1a1718" stroke-width="1.55" stroke-linecap="butt"/><line x1="1345.90" y1="1179.90" x2="1358.40" y2="1179.90" stroke="#1a1718" stroke-width="1.55" stroke-linecap="butt"/>
<line x1="1380.82" y1="1168.02" x2="1380.82" y2="1185.13" stroke="#1a1718" stroke-width="1.55" stroke-linecap="butt"/><line x1="1374.57" y1="1168.02" x2="1387.07" y2="1168.02" stroke="#1a1718" stroke-width="1.55" stroke-linecap="butt"/><line x1="1374.57" y1="1185.13" x2="1387.07" y2="1185.13" stroke="#1a1718" stroke-width="1.55" stroke-linecap="butt"/>
<line x1="1438.17" y1="1173.88" x2="1438.17" y2="1192.57" stroke="#1a1718" stroke-width="1.55" stroke-linecap="butt"/><line x1="1431.92" y1="1173.88" x2="1444.42" y2="1173.88" stroke="#1a1718" stroke-width="1.55" stroke-linecap="butt"/><line x1="1431.92" y1="1192.57" x2="1444.42" y2="1192.57" stroke="#1a1718" stroke-width="1.55" stroke-linecap="butt"/>
<line x1="1466.68" y1="1184.65" x2="1466.68" y2="1196.53" stroke="#1a1718" stroke-width="1.55" stroke-linecap="butt"/><line x1="1460.43" y1="1184.65" x2="1472.93" y2="1184.65" stroke="#1a1718" stroke-width="1.55" stroke-linecap="butt"/><line x1="1460.43" y1="1196.53" x2="1472.93" y2="1196.53" stroke="#1a1718" stroke-width="1.55" stroke-linecap="butt"/>
<circle cx="1095.62" cy="1039.73" r="3.05" fill="#fff" stroke="#1a1718" stroke-width="1.3"/>
<circle cx="1098.32" cy="1127.97" r="3.05" fill="#fff" stroke="#1a1718" stroke-width="1.3"/>
<circle cx="1129.68" cy="1078.54" r="3.05" fill="#fff" stroke="#1a1718" stroke-width="1.3"/>
<circle cx="1118.44" cy="1088.52" r="3.05" fill="#fff" stroke="#1a1718" stroke-width="1.3"/>
<circle cx="1129.68" cy="1111.97" r="3.05" fill="#fff" stroke="#1a1718" stroke-width="1.3"/>
<circle cx="1118.44" cy="1120.52" r="3.05" fill="#fff" stroke="#1a1718" stroke-width="1.3"/>
<circle cx="1184.18" cy="1019.46" r="3.05" fill="#fff" stroke="#1a1718" stroke-width="1.3"/>
<circle cx="1178.32" cy="1025.48" r="3.05" fill="#fff" stroke="#1a1718" stroke-width="1.3"/>
<circle cx="1184.18" cy="1125.59" r="3.05" fill="#fff" stroke="#1a1718" stroke-width="1.3"/>
<circle cx="1209.52" cy="1064.13" r="3.05" fill="#fff" stroke="#1a1718" stroke-width="1.3"/>
<circle cx="1209.52" cy="1077.75" r="3.05" fill="#fff" stroke="#1a1718" stroke-width="1.3"/>
<circle cx="1205.72" cy="1121.16" r="3.05" fill="#fff" stroke="#1a1718" stroke-width="1.3"/>
<circle cx="1213.64" cy="1124.49" r="3.05" fill="#fff" stroke="#1a1718" stroke-width="1.3"/>
<circle cx="1272.57" cy="1054.31" r="3.05" fill="#fff" stroke="#1a1718" stroke-width="1.3"/>
<circle cx="1261.01" cy="1069.04" r="3.05" fill="#fff" stroke="#1a1718" stroke-width="1.3"/>
<circle cx="1272.57" cy="1129.55" r="3.05" fill="#fff" stroke="#1a1718" stroke-width="1.3"/>
<circle cx="1092.77" cy="1141.09" r="3.05" fill="#fff" stroke="#1a1718" stroke-width="1.3"/>
<circle cx="1098.32" cy="1154.55" r="3.05" fill="#fff" stroke="#1a1718" stroke-width="1.3"/>
<circle cx="1092.46" cy="1158.51" r="3.05" fill="#fff" stroke="#1a1718" stroke-width="1.3"/>
<circle cx="1104.34" cy="1163.58" r="3.05" fill="#fff" stroke="#1a1718" stroke-width="1.3"/>
<circle cx="1086.75" cy="1172.30" r="3.05" fill="#fff" stroke="#1a1718" stroke-width="1.3"/>
<circle cx="1095.62" cy="1174.36" r="3.05" fill="#fff" stroke="#1a1718" stroke-width="1.3"/>
<circle cx="1118.44" cy="1141.09" r="3.05" fill="#fff" stroke="#1a1718" stroke-width="1.3"/>
<circle cx="1129.68" cy="1139.03" r="3.05" fill="#fff" stroke="#1a1718" stroke-width="1.3"/>
<circle cx="1118.44" cy="1159.62" r="3.05" fill="#fff" stroke="#1a1718" stroke-width="1.3"/>
<circle cx="1129.68" cy="1169.60" r="3.05" fill="#fff" stroke="#1a1718" stroke-width="1.3"/>
<circle cx="1123.98" cy="1197.64" r="3.05" fill="#fff" stroke="#1a1718" stroke-width="1.3"/>
<circle cx="1178.32" cy="1133.17" r="3.05" fill="#fff" stroke="#1a1718" stroke-width="1.3"/>
<circle cx="1181.17" cy="1160.10" r="3.05" fill="#fff" stroke="#1a1718" stroke-width="1.3"/>
<circle cx="1189.88" cy="1173.56" r="3.05" fill="#fff" stroke="#1a1718" stroke-width="1.3"/>
<circle cx="1172.46" cy="1176.42" r="3.05" fill="#fff" stroke="#1a1718" stroke-width="1.3"/>
<circle cx="1178.32" cy="1189.72" r="3.05" fill="#fff" stroke="#1a1718" stroke-width="1.3"/>
<circle cx="1184.18" cy="1188.61" r="3.05" fill="#fff" stroke="#1a1718" stroke-width="1.3"/>
<circle cx="1202.08" cy="1155.35" r="3.05" fill="#fff" stroke="#1a1718" stroke-width="1.3"/>
<circle cx="1209.68" cy="1158.51" r="3.05" fill="#fff" stroke="#1a1718" stroke-width="1.3"/>
<circle cx="1217.45" cy="1162.95" r="3.05" fill="#fff" stroke="#1a1718" stroke-width="1.3"/>
<circle cx="1209.68" cy="1184.34" r="3.05" fill="#fff" stroke="#1a1718" stroke-width="1.3"/>
<circle cx="1217.45" cy="1187.35" r="3.05" fill="#fff" stroke="#1a1718" stroke-width="1.3"/>
<circle cx="1202.08" cy="1197.49" r="3.05" fill="#fff" stroke="#1a1718" stroke-width="1.3"/>
<circle cx="1261.01" cy="1133.17" r="3.05" fill="#fff" stroke="#1a1718" stroke-width="1.3"/>
<circle cx="1272.57" cy="1158.20" r="3.05" fill="#fff" stroke="#1a1718" stroke-width="1.3"/>
<circle cx="1261.01" cy="1164.85" r="3.05" fill="#fff" stroke="#1a1718" stroke-width="1.3"/>
<circle cx="1266.71" cy="1179.90" r="3.05" fill="#fff" stroke="#1a1718" stroke-width="1.3"/>
<circle cx="1261.01" cy="1203.66" r="3.05" fill="#fff" stroke="#1a1718" stroke-width="1.3"/>
<circle cx="1272.57" cy="1204.77" r="3.05" fill="#fff" stroke="#1a1718" stroke-width="1.3"/>
<circle cx="1295.28" cy="1094.86" r="3.05" fill="#fff" stroke="#1a1718" stroke-width="1.3"/>
<circle cx="1303.04" cy="1136.02" r="3.05" fill="#fff" stroke="#1a1718" stroke-width="1.3"/>
<circle cx="1295.28" cy="1141.09" r="3.05" fill="#fff" stroke="#1a1718" stroke-width="1.3"/>
<circle cx="1287.67" cy="1144.57" r="3.05" fill="#fff" stroke="#1a1718" stroke-width="1.3"/>
<circle cx="1287.67" cy="1150.59" r="3.05" fill="#fff" stroke="#1a1718" stroke-width="1.3"/>
<circle cx="1295.28" cy="1172.77" r="3.05" fill="#fff" stroke="#1a1718" stroke-width="1.3"/>
<circle cx="1303.04" cy="1172.77" r="3.05" fill="#fff" stroke="#1a1718" stroke-width="1.3"/>
<circle cx="1291.32" cy="1187.35" r="3.05" fill="#fff" stroke="#1a1718" stroke-width="1.3"/>
<circle cx="1299.08" cy="1190.51" r="3.05" fill="#fff" stroke="#1a1718" stroke-width="1.3"/>
<circle cx="1295.28" cy="1200.97" r="3.05" fill="#fff" stroke="#1a1718" stroke-width="1.3"/>
<circle cx="1343.44" cy="1133.17" r="3.05" fill="#fff" stroke="#1a1718" stroke-width="1.3"/>
<circle cx="1360.70" cy="1132.85" r="3.05" fill="#fff" stroke="#1a1718" stroke-width="1.3"/>
<circle cx="1355.00" cy="1146.16" r="3.05" fill="#fff" stroke="#1a1718" stroke-width="1.3"/>
<circle cx="1349.14" cy="1149.33" r="3.05" fill="#fff" stroke="#1a1718" stroke-width="1.3"/>
<circle cx="1349.14" cy="1160.10" r="3.05" fill="#fff" stroke="#1a1718" stroke-width="1.3"/>
<circle cx="1355.00" cy="1168.02" r="3.05" fill="#fff" stroke="#1a1718" stroke-width="1.3"/>
<circle cx="1352.15" cy="1194.48" r="3.05" fill="#fff" stroke="#1a1718" stroke-width="1.3"/>
<circle cx="1349.14" cy="1213.64" r="3.05" fill="#fff" stroke="#1a1718" stroke-width="1.3"/>
<circle cx="1355.00" cy="1220.61" r="3.05" fill="#fff" stroke="#1a1718" stroke-width="1.3"/>
<circle cx="1376.86" cy="1135.07" r="3.05" fill="#fff" stroke="#1a1718" stroke-width="1.3"/>
<circle cx="1384.31" cy="1145.05" r="3.05" fill="#fff" stroke="#1a1718" stroke-width="1.3"/>
<circle cx="1380.35" cy="1159.78" r="3.05" fill="#fff" stroke="#1a1718" stroke-width="1.3"/>
<circle cx="1388.27" cy="1160.57" r="3.05" fill="#fff" stroke="#1a1718" stroke-width="1.3"/>
<circle cx="1373.22" cy="1165.17" r="3.05" fill="#fff" stroke="#1a1718" stroke-width="1.3"/>
<circle cx="1376.86" cy="1186.71" r="3.05" fill="#fff" stroke="#1a1718" stroke-width="1.3"/>
<circle cx="1384.31" cy="1193.68" r="3.05" fill="#fff" stroke="#1a1718" stroke-width="1.3"/>
<circle cx="1373.22" cy="1198.12" r="3.05" fill="#fff" stroke="#1a1718" stroke-width="1.3"/>
<circle cx="1380.82" cy="1206.04" r="3.05" fill="#fff" stroke="#1a1718" stroke-width="1.3"/>
<circle cx="1388.27" cy="1215.23" r="3.05" fill="#fff" stroke="#1a1718" stroke-width="1.3"/>
<circle cx="1429.14" cy="1151.07" r="3.05" fill="#fff" stroke="#1a1718" stroke-width="1.3"/>
<circle cx="1446.41" cy="1161.37" r="3.05" fill="#fff" stroke="#1a1718" stroke-width="1.3"/>
<circle cx="1440.54" cy="1164.85" r="3.05" fill="#fff" stroke="#1a1718" stroke-width="1.3"/>
<circle cx="1435.00" cy="1167.70" r="3.05" fill="#fff" stroke="#1a1718" stroke-width="1.3"/>
<circle cx="1443.40" cy="1179.58" r="3.05" fill="#fff" stroke="#1a1718" stroke-width="1.3"/>
<circle cx="1437.85" cy="1182.75" r="3.05" fill="#fff" stroke="#1a1718" stroke-width="1.3"/>
<circle cx="1432.15" cy="1187.82" r="3.05" fill="#fff" stroke="#1a1718" stroke-width="1.3"/>
<circle cx="1435.00" cy="1225.52" r="3.05" fill="#fff" stroke="#1a1718" stroke-width="1.3"/>
<circle cx="1440.54" cy="1229.80" r="3.05" fill="#fff" stroke="#1a1718" stroke-width="1.3"/>
<circle cx="1460.66" cy="1161.21" r="3.05" fill="#fff" stroke="#1a1718" stroke-width="1.3"/>
<circle cx="1472.23" cy="1163.43" r="3.05" fill="#fff" stroke="#1a1718" stroke-width="1.3"/>
<circle cx="1466.37" cy="1172.46" r="3.05" fill="#fff" stroke="#1a1718" stroke-width="1.3"/>
<circle cx="1472.23" cy="1181.17" r="3.05" fill="#fff" stroke="#1a1718" stroke-width="1.3"/>
<circle cx="1466.37" cy="1183.54" r="3.05" fill="#fff" stroke="#1a1718" stroke-width="1.3"/>
<circle cx="1460.66" cy="1185.45" r="3.05" fill="#fff" stroke="#1a1718" stroke-width="1.3"/>
<circle cx="1457.97" cy="1206.83" r="3.05" fill="#fff" stroke="#1a1718" stroke-width="1.3"/>
<circle cx="1463.51" cy="1211.58" r="3.05" fill="#fff" stroke="#1a1718" stroke-width="1.3"/>
<circle cx="1469.38" cy="1211.90" r="3.05" fill="#fff" stroke="#1a1718" stroke-width="1.3"/>
<circle cx="1474.92" cy="1221.41" r="3.05" fill="#fff" stroke="#1a1718" stroke-width="1.3"/>
<text transform="translate(1103.20,1293.20) scale(1,1.04)" font-size="24.6" text-anchor="middle" fill="#1a1718">80</text>
<text transform="translate(1188.75,1293.20) scale(1,1.04)" font-size="24.6" text-anchor="middle" fill="#1a1718">200</text>
<text transform="translate(1274.30,1293.20) scale(1,1.04)" font-size="24.6" text-anchor="middle" fill="#1a1718">400</text>
<text transform="translate(1359.85,1293.20) scale(1,1.04)" font-size="24.6" text-anchor="middle" fill="#1a1718">800</text>
<text transform="translate(1445.40,1293.20) scale(1,1.04)" font-size="24.6" text-anchor="middle" fill="#1a1718">1600</text>
<text x="1213.50" y="1332.00" font-size="24.6" fill="#1a1718"><tspan font-style="italic">I</tspan> (mW<tspan dx="1"> </tspan>mm<tspan font-size="16" dy="-8.2">-2</tspan><tspan dy="8.2">)</tspan></text>
<text transform="translate(1003.60,1120.00) rotate(-90)" font-size="24.6" text-anchor="middle" fill="#1a1718">Spike latency (ms)</text>
<text transform="translate(1113.20,970.30) scale(1,1.04)" font-size="24.6" text-anchor="middle" fill="#1a1718">NS</text>
<line x1="1094.80" y1="979.10" x2="1131.60" y2="979.10" stroke="#1a1718" stroke-width="2.1" stroke-linecap="butt"/>
<text transform="translate(1198.75,970.30) scale(1,1.04)" font-size="24.6" text-anchor="middle" fill="#1a1718">NS</text>
<line x1="1180.35" y1="979.10" x2="1217.15" y2="979.10" stroke="#1a1718" stroke-width="2.1" stroke-linecap="butt"/>
<text transform="translate(1284.30,970.30) scale(1,1.04)" font-size="24.6" text-anchor="middle" fill="#1a1718">NS</text>
<line x1="1265.90" y1="979.10" x2="1302.70" y2="979.10" stroke="#1a1718" stroke-width="2.1" stroke-linecap="butt"/>
<text transform="translate(1369.85,970.30) scale(1,1.04)" font-size="24.6" text-anchor="middle" fill="#1a1718">NS</text>
<line x1="1351.45" y1="979.10" x2="1388.25" y2="979.10" stroke="#1a1718" stroke-width="2.1" stroke-linecap="butt"/>
<text transform="translate(1455.40,970.30) scale(1,1.04)" font-size="24.6" text-anchor="middle" fill="#1a1718">NS</text>
<line x1="1437.00" y1="979.10" x2="1473.80" y2="979.10" stroke="#1a1718" stroke-width="2.1" stroke-linecap="butt"/></g>
<g id="panel-b"><line x1="194.60" y1="966.98" x2="194.60" y2="1271.82" stroke="#1a1718" stroke-width="2.45" stroke-linecap="butt"/>
<line x1="193.38" y1="1270.60" x2="425.10" y2="1270.60" stroke="#1a1718" stroke-width="2.45" stroke-linecap="butt"/>
<line x1="194.60" y1="968.20" x2="210.00" y2="968.20" stroke="#1a1718" stroke-width="2.45" stroke-linecap="butt"/>
<text transform="translate(187.70,975.20) scale(1,1.04)" font-size="24.6" text-anchor="end" fill="#1a1718">200</text>
<line x1="194.60" y1="1043.70" x2="210.00" y2="1043.70" stroke="#1a1718" stroke-width="2.45" stroke-linecap="butt"/>
<text transform="translate(187.70,1050.70) scale(1,1.04)" font-size="24.6" text-anchor="end" fill="#1a1718">150</text>
<line x1="194.60" y1="1119.10" x2="210.00" y2="1119.10" stroke="#1a1718" stroke-width="2.45" stroke-linecap="butt"/>
<text transform="translate(187.70,1126.10) scale(1,1.04)" font-size="24.6" text-anchor="end" fill="#1a1718">100</text>
<line x1="194.60" y1="1195.10" x2="210.00" y2="1195.10" stroke="#1a1718" stroke-width="2.45" stroke-linecap="butt"/>
<text transform="translate(187.70,1202.10) scale(1,1.04)" font-size="24.6" text-anchor="end" fill="#1a1718">50</text>
<text transform="translate(187.70,1278.20) scale(1,1.04)" font-size="24.6" text-anchor="end" fill="#1a1718">0</text>
<line x1="271.00" y1="1126.60" x2="271.00" y2="1246.40" stroke="#1a1718" stroke-width="2.45" stroke-linecap="butt"/>
<line x1="257.50" y1="1126.60" x2="284.50" y2="1126.60" stroke="#1a1718" stroke-width="2.45" stroke-linecap="butt"/>
<line x1="257.50" y1="1246.40" x2="284.50" y2="1246.40" stroke="#1a1718" stroke-width="2.45" stroke-linecap="butt"/>
<rect x="246.92" y="1181.22" width="48.15" height="53.45" fill="#fff" stroke="#1a1718" stroke-width="2.45"/>
<line x1="245.70" y1="1214.40" x2="296.30" y2="1214.40" stroke="#1a1718" stroke-width="2.45" stroke-linecap="butt"/>
<line x1="347.60" y1="1230.50" x2="347.60" y2="1257.30" stroke="#1a1718" stroke-width="2.45" stroke-linecap="butt"/>
<line x1="334.10" y1="1230.50" x2="361.10" y2="1230.50" stroke="#1a1718" stroke-width="2.45" stroke-linecap="butt"/>
<line x1="334.10" y1="1257.30" x2="361.10" y2="1257.30" stroke="#1a1718" stroke-width="2.45" stroke-linecap="butt"/>
<rect x="323.62" y="1239.72" width="47.95" height="13.95" fill="#a7a9ac" stroke="#1a1718" stroke-width="2.45"/>
<line x1="322.40" y1="1250.90" x2="372.80" y2="1250.90" stroke="#1a1718" stroke-width="2.45" stroke-linecap="butt"/>
<rect x="270.30" y="1198.10" width="1.6" height="2.8" fill="none" stroke="#555" stroke-width="0.5"/>
<rect x="346.80" y="1245.20" width="1.6" height="2.8" fill="none" stroke="#555" stroke-width="0.5"/>
<text x="309.10" y="945.60" font-size="24.6" text-anchor="middle" fill="#1a1718" xml:space="preserve">eYFP  fluorescent</text>
<text x="309.20" y="975.60" font-size="24.6" text-anchor="middle" fill="#1a1718">signal</text>
<text transform="translate(308.50,1034.90) scale(1,1.04)" font-size="24.6" text-anchor="middle" fill="#1a1718">****</text>
<line x1="269.50" y1="1033.40" x2="347.50" y2="1033.40" stroke="#1a1718" stroke-width="1.8" stroke-linecap="butt"/>
<text transform="translate(120.60,1119) rotate(-90)" font-size="24.6" text-anchor="middle" fill="#1a1718">Mean intensity (a.u)</text>
<text transform="translate(290.50,1293.50) rotate(-30)" font-size="24.6" text-anchor="end" fill="#1a1718">Intracranial</text>
<text transform="translate(374.50,1293.50) rotate(-30)" font-size="24.6" text-anchor="end" fill="#1a1718">Retro-orbital</text></g>
<g id="panel-c"><line x1="642.70" y1="966.98" x2="642.70" y2="1271.82" stroke="#1a1718" stroke-width="2.45" stroke-linecap="butt"/>
<line x1="641.48" y1="1270.60" x2="873.20" y2="1270.60" stroke="#1a1718" stroke-width="2.45" stroke-linecap="butt"/>
<line x1="642.70" y1="968.20" x2="654.80" y2="968.20" stroke="#1a1718" stroke-width="2.45" stroke-linecap="butt"/>
<text transform="translate(635.80,975.20) scale(1,1.04)" font-size="24.6" text-anchor="end" fill="#1a1718">200</text>
<line x1="642.70" y1="1043.70" x2="654.80" y2="1043.70" stroke="#1a1718" stroke-width="2.45" stroke-linecap="butt"/>
<text transform="translate(635.80,1050.70) scale(1,1.04)" font-size="24.6" text-anchor="end" fill="#1a1718">150</text>
<line x1="642.70" y1="1119.10" x2="654.80" y2="1119.10" stroke="#1a1718" stroke-width="2.45" stroke-linecap="butt"/>
<text transform="translate(635.80,1126.10) scale(1,1.04)" font-size="24.6" text-anchor="end" fill="#1a1718">100</text>
<line x1="642.70" y1="1195.10" x2="654.80" y2="1195.10" stroke="#1a1718" stroke-width="2.45" stroke-linecap="butt"/>
<text transform="translate(635.80,1202.10) scale(1,1.04)" font-size="24.6" text-anchor="end" fill="#1a1718">50</text>
<text transform="translate(635.80,1278.20) scale(1,1.04)" font-size="24.6" text-anchor="end" fill="#1a1718">0</text>
<line x1="719.45" y1="1138.00" x2="719.45" y2="1244.70" stroke="#1a1718" stroke-width="2.45" stroke-linecap="butt"/>
<line x1="705.95" y1="1138.00" x2="732.95" y2="1138.00" stroke="#1a1718" stroke-width="2.45" stroke-linecap="butt"/>
<line x1="705.95" y1="1244.70" x2="732.95" y2="1244.70" stroke="#1a1718" stroke-width="2.45" stroke-linecap="butt"/>
<rect x="695.43" y="1174.12" width="48.05" height="59.65" fill="#fff" stroke="#1a1718" stroke-width="2.45"/>
<line x1="694.20" y1="1216.40" x2="744.70" y2="1216.40" stroke="#1a1718" stroke-width="2.45" stroke-linecap="butt"/>
<line x1="795.95" y1="1225.00" x2="795.95" y2="1255.90" stroke="#1a1718" stroke-width="2.45" stroke-linecap="butt"/>
<line x1="782.45" y1="1225.00" x2="809.45" y2="1225.00" stroke="#1a1718" stroke-width="2.45" stroke-linecap="butt"/>
<line x1="782.45" y1="1255.90" x2="809.45" y2="1255.90" stroke="#1a1718" stroke-width="2.45" stroke-linecap="butt"/>
<rect x="771.73" y="1236.72" width="48.45" height="14.15" fill="#a7a9ac" stroke="#1a1718" stroke-width="2.45"/>
<line x1="770.50" y1="1245.40" x2="821.40" y2="1245.40" stroke="#1a1718" stroke-width="2.45" stroke-linecap="butt"/>
<rect x="718.60" y="1201.60" width="1.6" height="2.8" fill="none" stroke="#555" stroke-width="0.5"/>
<rect x="794.90" y="1240.40" width="1.6" height="2.8" fill="none" stroke="#555" stroke-width="0.5"/>
<text x="758.60" y="945.60" font-size="24.6" text-anchor="middle" fill="#1a1718" xml:space="preserve">ChRmine mRNA</text>
<text x="757.40" y="975.60" font-size="24.6" text-anchor="middle" fill="#1a1718">signal</text>
<text transform="translate(757.70,1034.90) scale(1,1.04)" font-size="24.6" text-anchor="middle" fill="#1a1718">****</text>
<line x1="718.70" y1="1033.40" x2="796.70" y2="1033.40" stroke="#1a1718" stroke-width="1.8" stroke-linecap="butt"/>
<text transform="translate(564.60,1119) rotate(-90)" font-size="24.6" text-anchor="middle" fill="#1a1718">Mean intensity (a.u)</text>
<text transform="translate(735.50,1293.50) rotate(-30)" font-size="24.6" text-anchor="end" fill="#1a1718">Intracranial</text>
<text transform="translate(819.50,1293.50) rotate(-30)" font-size="24.6" text-anchor="end" fill="#1a1718">Retro-orbital</text></g>
<rect x="1340.70" y="2.70" width="31.00" height="18.00" fill="#fff" stroke="#1a1718" stroke-width="1.85"/>
<rect x="1340.70" y="41.60" width="31.00" height="18.00" fill="#a7a9ac" stroke="#1a1718" stroke-width="1.85"/>
<text x="1381.20" y="17.60" font-size="24.6" text-anchor="start" fill="#1a1718">Intracranial</text>
<text x="1380.40" y="56.50" font-size="24.6" text-anchor="start" fill="#1a1718">Retro-orbital</text>
<text x="-1.00" y="33.00" font-size="28" text-anchor="start" fill="#1a1718" font-weight="bold">a</text>
<text transform="translate(953.50,33.00) scale(1,1.04)" font-size="28" text-anchor="start" fill="#1a1718" font-weight="bold">d</text>
<text transform="translate(-0.80,917.10) scale(1,1.04)" font-size="28" text-anchor="start" fill="#1a1718" font-weight="bold">b</text>
<text x="502.60" y="917.00" font-size="28" text-anchor="start" fill="#1a1718" font-weight="bold">c</text>
<text x="954.40" y="523.20" font-size="28" text-anchor="start" fill="#1a1718" font-weight="bold">e</text>
<text transform="translate(958.50,917.10) scale(1,1.04)" font-size="28" text-anchor="start" fill="#1a1718" font-weight="bold">f</text>
</svg></body></html>
